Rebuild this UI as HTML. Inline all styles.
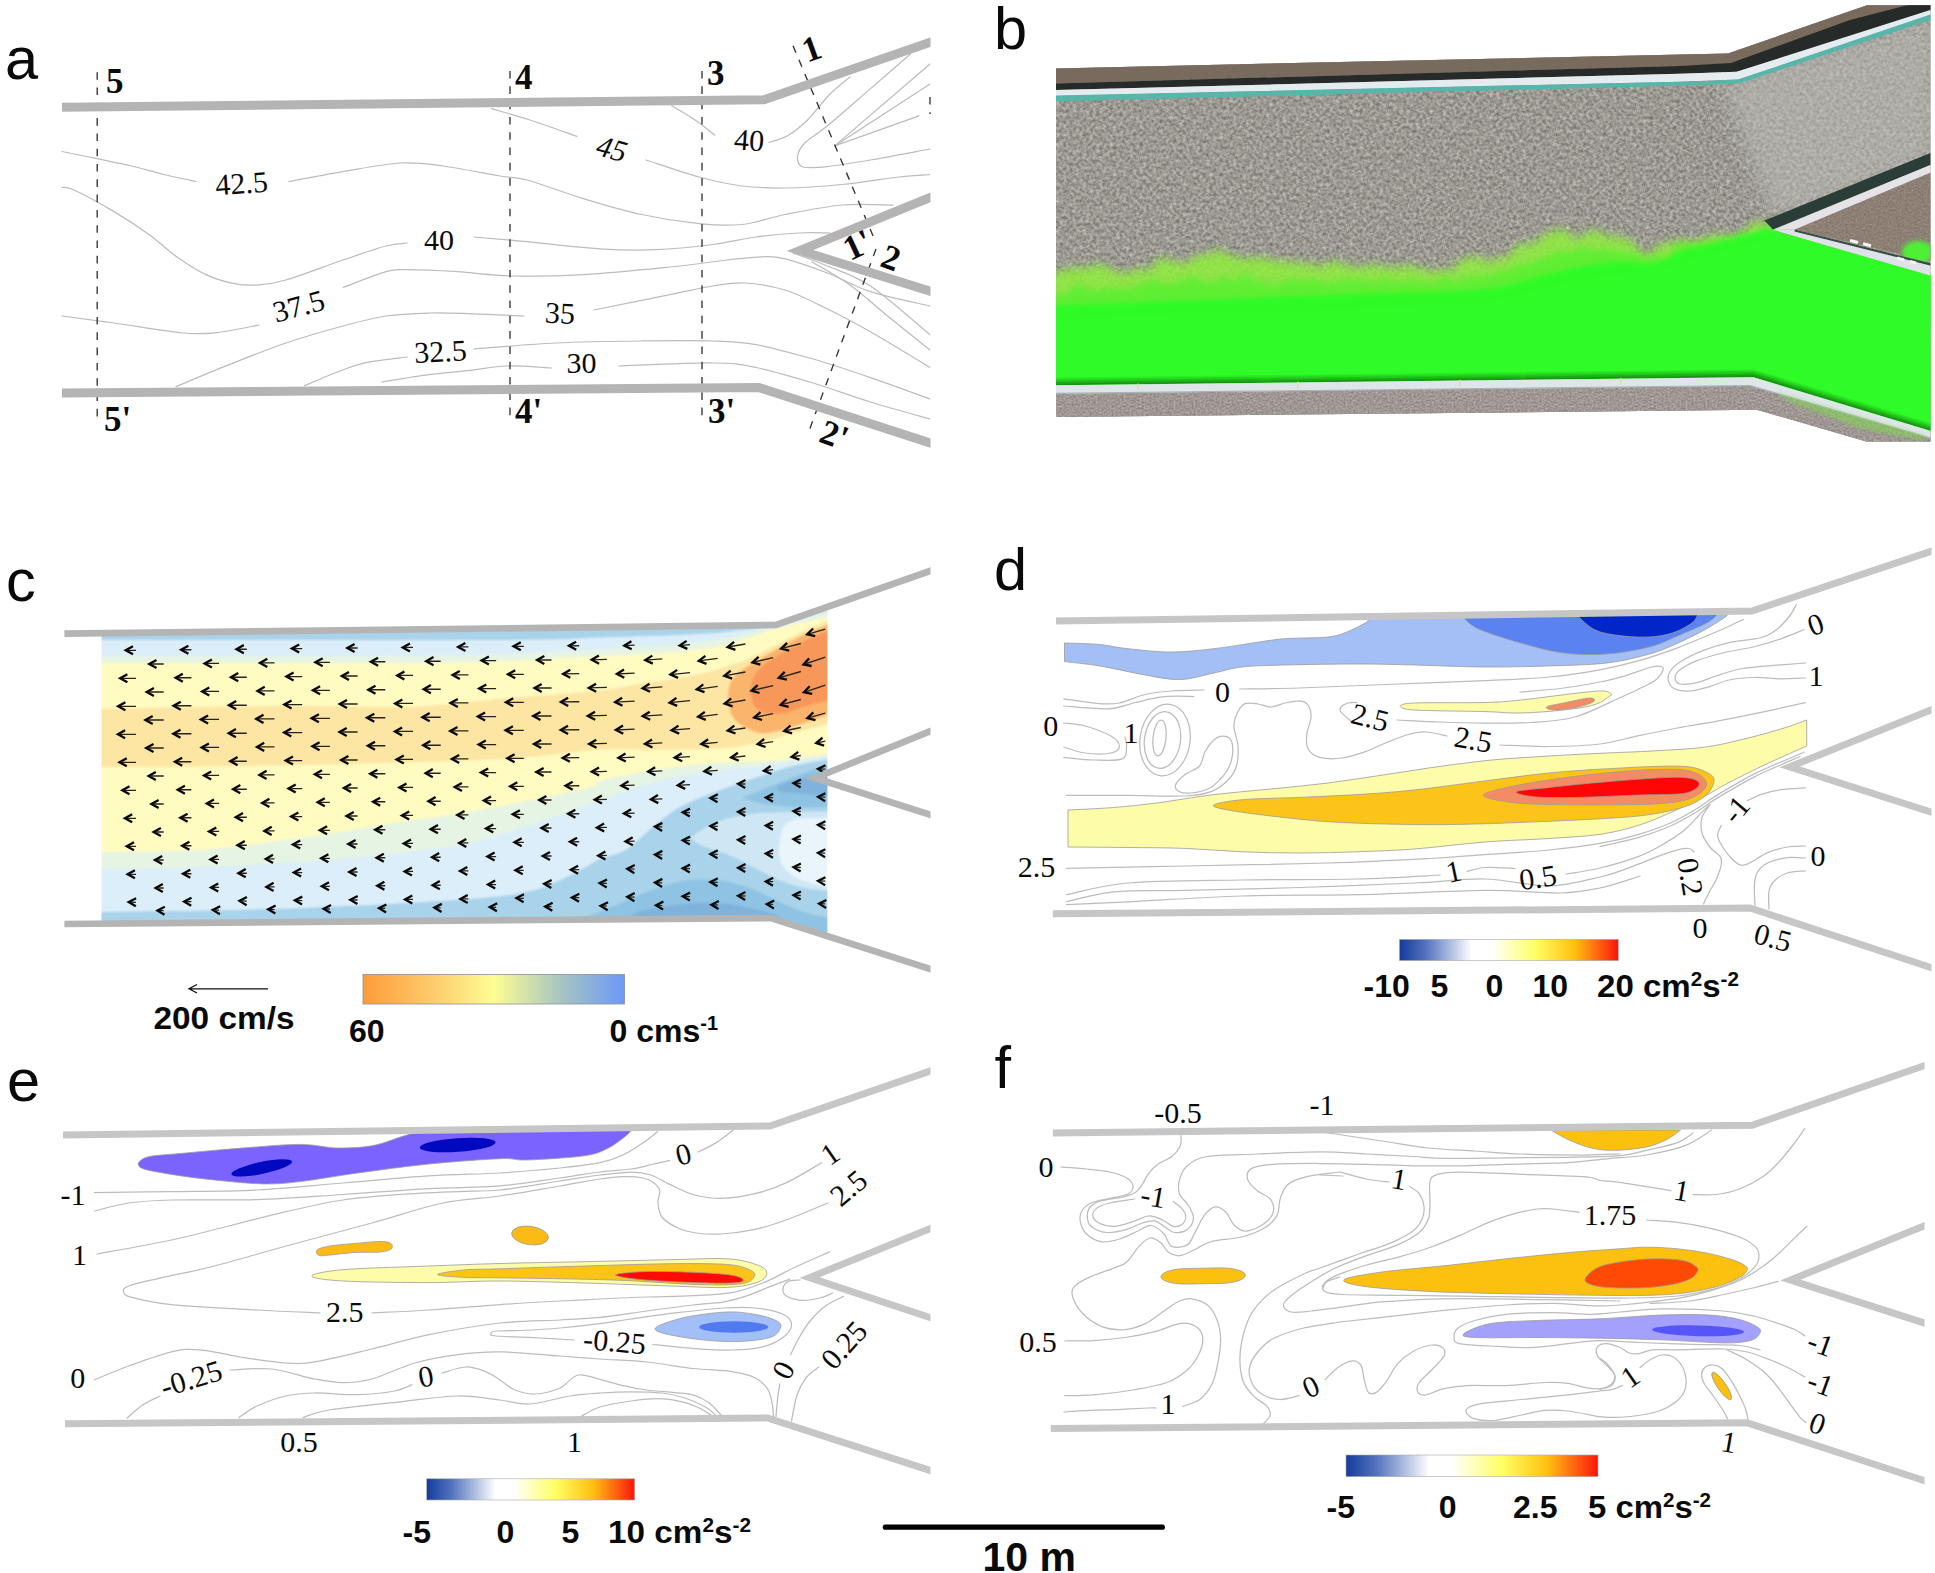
<!DOCTYPE html>
<html><head><meta charset="utf-8"><title>Figure</title>
<style>
html,body{margin:0;padding:0;background:#fff;}
body{width:1935px;height:1573px;overflow:hidden;}
svg{display:block;}
.ct{fill:none;stroke:#bcbcbc;stroke-width:1.25;stroke-linecap:round;stroke-linejoin:round;}
.wall9{fill:none;stroke:#b4b4b4;stroke-width:9;stroke-linejoin:miter;}
.wall7{fill:none;stroke:#b4b4b4;stroke-width:6.7;stroke-linejoin:miter;}
.wall7l{fill:none;stroke:#c6c6c6;stroke-width:7;stroke-linejoin:miter;}
.dash{fill:none;stroke:#333;stroke-width:1.35;stroke-dasharray:7.6 7.7;}
text{fill:#0a0a0a;}
.pl{font-family:"Liberation Sans",sans-serif;font-size:59.5px;}
.bl{font-family:"Liberation Serif",serif;font-weight:bold;font-size:35px;}
.blc{font-family:"Liberation Serif",serif;font-weight:bold;font-size:35px;text-anchor:middle;dominant-baseline:central;}
.lb{font-family:"Liberation Serif",serif;font-size:30px;}
.lbc{font-family:"Liberation Serif",serif;font-size:30px;text-anchor:middle;dominant-baseline:central;}
.lbci{font-family:"Liberation Serif",serif;font-size:30px;font-style:italic;text-anchor:middle;dominant-baseline:central;}
.ab{font-family:"Liberation Sans",sans-serif;font-weight:bold;font-size:32px;}
.ab2{font-family:"Liberation Sans",sans-serif;font-weight:bold;font-size:32px;}
.ab3{font-family:"Liberation Sans",sans-serif;font-weight:bold;font-size:41px;}
.sup{font-size:20px;}
</style></head><body>
<svg width="1935" height="1573" viewBox="0 0 1935 1573">
<defs>
<clipPath id="clipA"><rect x="0" y="0" width="930.5" height="500"/></clipPath>
<clipPath id="clipL"><rect x="0" y="500" width="930.5" height="1073"/></clipPath>
<clipPath id="clipR"><rect x="985" y="500" width="946.5" height="600"/></clipPath>
<clipPath id="clipF"><rect x="985" y="1000" width="939.5" height="573"/></clipPath>
<linearGradient id="gradC" x1="0" x2="1" y1="0" y2="0">
<stop offset="0" stop-color="#fd9c38"/><stop offset="0.25" stop-color="#fdc868"/><stop offset="0.5" stop-color="#fdfd94"/><stop offset="0.75" stop-color="#a9c6c0"/><stop offset="1" stop-color="#6c98f8"/>
</linearGradient>
<linearGradient id="gradD" x1="0" x2="1" y1="0" y2="0">
<stop offset="0" stop-color="#153b9c"/><stop offset="0.12" stop-color="#5273bd"/><stop offset="0.33" stop-color="#ffffff"/><stop offset="0.42" stop-color="#ffffff"/><stop offset="0.62" stop-color="#ffff64"/><stop offset="0.8" stop-color="#ffc010"/><stop offset="0.92" stop-color="#ff5a10"/><stop offset="1" stop-color="#fb1409"/>
</linearGradient>
<filter id="grav" x="0" y="0" width="100%" height="100%" color-interpolation-filters="sRGB">
<feTurbulence type="fractalNoise" baseFrequency="0.3" numOctaves="3" seed="7" result="n"/>
<feColorMatrix in="n" type="matrix" values="0.44 0 0 0 0.388  0.44 0 0 0 0.38  0.44 0 0 0 0.353  0 0 0 0 1" result="c"/>
<feGaussianBlur in="c" stdDeviation="0.6" result="cb"/>
<feComposite in="cb" in2="SourceGraphic" operator="in"/>
</filter>
<filter id="grav2" x="0" y="0" width="100%" height="100%" color-interpolation-filters="sRGB">
<feTurbulence type="fractalNoise" baseFrequency="0.5" numOctaves="2" seed="11" result="n"/>
<feColorMatrix in="n" type="matrix" values="1.0 0 0 0 0.1  1.0 0 0 0 0.07  1.0 0 0 0 0.06  0 0 0 0 1"/>
<feComposite in2="SourceGraphic" operator="in"/>
</filter>
<filter id="fuzz" x="-5%" y="-20%" width="110%" height="140%" color-interpolation-filters="sRGB">
<feTurbulence type="fractalNoise" baseFrequency="0.035" numOctaves="3" seed="5" result="t"/>
<feDisplacementMap in="SourceGraphic" in2="t" scale="26" xChannelSelector="R" yChannelSelector="G" result="d"/>
<feGaussianBlur in="d" stdDeviation="5"/>
</filter>
<filter id="fuzz2" x="-5%" y="-20%" width="110%" height="140%" color-interpolation-filters="sRGB">
<feTurbulence type="fractalNoise" baseFrequency="0.05" numOctaves="3" seed="9" result="t"/>
<feDisplacementMap in="SourceGraphic" in2="t" scale="20" xChannelSelector="R" yChannelSelector="G" result="d"/>
<feGaussianBlur in="d" stdDeviation="3.5"/>
</filter>
<filter id="blur1" x="-2%" y="-2%" width="104%" height="104%"><feGaussianBlur stdDeviation="1.1"/></filter>
<filter id="blur2" x="-5%" y="-20%" width="110%" height="140%"><feGaussianBlur stdDeviation="2"/></filter>
<filter id="blur8" x="-20%" y="-20%" width="140%" height="140%"><feGaussianBlur stdDeviation="10"/></filter>
</defs>
<rect width="1935" height="1573" fill="#fff"/>
<!-- panel a -->
<g clip-path="url(#clipA)">
<path class="ct" d="M62.0,151.5 C67.8,152.7 85.4,156.3 97.0,158.7 C108.6,161.1 120.1,163.3 131.6,166.0 C143.1,168.7 155.3,172.4 166.0,175.0 C176.7,177.6 191.0,180.4 196.0,181.5"/>
<path class="ct" d="M289.0,181.6 C298.0,179.9 324.4,174.7 343.0,171.6 C361.6,168.5 383.8,163.9 400.5,163.0 C417.2,162.1 426.4,163.8 443.0,166.0 C459.6,168.2 486.0,173.7 500.0,176.0 C514.0,178.3 513.0,176.2 527.0,180.0 C541.0,183.8 564.9,193.1 584.0,198.8 C603.1,204.6 622.4,210.3 641.6,214.5 C660.8,218.7 682.3,222.0 699.0,223.7 C715.7,225.4 727.7,226.0 742.0,224.5 C756.3,223.0 768.3,217.8 785.0,214.5 C801.7,211.2 824.0,206.6 842.0,205.0 C860.0,203.4 884.5,205.0 893.0,205.0"/>
<path class="ct" d="M62.0,187.5 C64.0,187.9 65.3,186.0 74.0,190.0 C82.7,194.0 101.5,204.2 114.0,211.6 C126.5,219.0 138.5,226.9 149.0,234.5 C159.5,242.1 167.5,250.3 177.0,257.0 C186.5,263.7 196.4,270.2 206.0,274.6 C215.6,279.1 226.0,282.0 234.5,283.7 C243.0,285.4 248.4,285.6 257.0,285.0 C265.6,284.4 271.7,284.2 286.0,280.0 C300.3,275.8 326.3,265.7 343.0,260.0 C359.7,254.3 375.3,248.8 386.0,246.0 C396.7,243.2 403.5,243.5 407.0,243.0"/>
<path class="ct" d="M474.0,237.0 C482.8,237.8 506.2,239.7 527.0,241.7 C547.8,243.7 577.5,247.5 599.0,248.8 C620.5,250.1 637.0,250.4 656.0,249.7 C675.0,249.0 696.3,246.6 713.0,244.5 C729.7,242.4 741.7,238.9 756.0,237.0 C770.3,235.1 786.7,233.7 799.0,233.0 C811.3,232.3 824.8,233.0 830.0,233.0"/>
<path class="ct" d="M62.0,316.0 C70.7,317.2 93.8,320.2 114.0,323.0 C134.2,325.8 165.8,331.4 183.0,333.0 C200.2,334.6 204.3,333.9 217.0,332.6 C229.7,331.3 252.0,326.3 259.0,325.0"/>
<path class="ct" d="M343.0,287.5 C350.2,284.9 375.5,274.7 386.0,271.7 C396.5,268.7 394.1,269.7 406.0,269.7 C417.9,269.7 439.8,270.6 457.6,271.7 C475.4,272.8 491.9,275.5 513.0,276.0 C534.1,276.5 557.8,276.1 584.0,274.6 C610.2,273.1 646.2,269.4 670.0,267.0 C693.8,264.6 711.7,261.7 727.0,260.0 C742.3,258.3 752.3,257.0 762.0,256.8 C771.7,256.6 774.1,256.1 785.0,258.8 C795.9,261.5 813.2,267.5 827.5,273.0 C841.8,278.5 853.4,286.2 870.5,291.7 C887.6,297.2 920.1,303.6 930.0,306.0"/>
<path class="ct" d="M176.0,386.7 C184.8,383.0 210.7,372.0 229.0,364.7 C247.3,357.4 267.0,349.4 286.0,343.0 C305.0,336.6 326.3,330.5 343.0,326.0 C359.7,321.5 371.7,318.2 386.0,316.0 C400.3,313.8 414.7,313.4 429.0,313.0 C443.3,312.6 456.2,313.3 472.0,313.8 C487.8,314.3 515.3,315.6 524.0,316.0"/>
<path class="ct" d="M594.0,310.0 C606.7,307.4 650.2,298.6 670.0,294.6 C689.8,290.6 700.6,287.9 713.0,286.0 C725.4,284.1 732.6,282.3 744.6,283.0 C756.6,283.7 771.2,285.7 785.0,290.0 C798.8,294.3 813.2,302.0 827.5,309.0 C841.8,316.0 853.4,322.1 870.5,331.8 C887.6,341.6 920.1,361.6 930.0,367.5"/>
<path class="ct" d="M304.6,385.6 C310.1,383.3 327.3,375.8 337.5,372.0 C347.7,368.2 354.4,365.2 366.0,362.7 C377.6,360.2 400.2,357.9 407.0,357.0"/>
<path class="ct" d="M474.0,349.0 C487.7,348.0 528.1,344.3 556.0,343.0 C583.9,341.7 615.4,341.3 641.6,341.0 C667.8,340.7 693.9,340.4 713.0,341.0 C732.1,341.6 739.3,341.6 756.0,344.6 C772.7,347.6 793.9,353.5 813.0,359.0 C832.1,364.5 851.0,370.9 870.5,377.6 C890.0,384.3 920.1,395.4 930.0,399.0"/>
<path class="ct" d="M382.0,382.0 C389.8,380.8 414.3,376.6 429.0,374.7 C443.7,372.8 457.0,371.8 470.0,370.4 C483.0,368.9 493.4,366.4 507.0,366.0 C520.6,365.6 544.1,367.7 551.5,368.0"/>
<path class="ct" d="M619.0,366.0 C634.7,365.5 690.2,362.8 713.0,363.0 C735.8,363.2 739.3,364.2 756.0,367.5 C772.7,370.8 793.9,377.2 813.0,383.0 C832.1,388.8 851.0,396.0 870.5,402.0 C890.0,408.0 920.1,416.2 930.0,419.0"/>
<path class="ct" d="M491.5,108.7 C497.9,110.6 515.8,115.4 530.0,120.0 C544.2,124.6 569.2,133.7 577.0,136.4"/>
<path class="ct" d="M646.0,160.0 C654.8,162.8 683.0,172.7 699.0,177.0 C715.0,181.3 727.7,184.2 742.0,186.0 C756.3,187.8 768.3,188.2 785.0,188.0 C801.7,187.8 823.0,186.3 842.0,184.5 C861.0,182.7 884.3,178.7 899.0,177.0 C913.7,175.3 924.8,174.9 930.0,174.5"/>
<path class="ct" d="M671.7,105.8 C675.6,108.2 687.9,115.1 695.0,120.0 C702.1,124.9 711.3,132.5 714.6,135.0"/>
<path class="ct" d="M769.0,142.4 C772.1,141.3 781.1,139.5 787.5,135.8 C793.9,132.1 800.4,127.0 807.5,120.0 C814.6,113.0 822.9,101.2 830.0,94.0 C837.1,86.8 846.7,79.8 850.0,77.0"/>
<path class="ct" d="M910.5,54.0 C903.8,59.8 884.3,76.6 870.5,88.6 C856.7,100.6 838.5,116.7 827.5,125.8 C816.5,134.9 809.7,137.8 804.7,143.0 C799.7,148.2 797.8,153.0 797.5,157.0 C797.2,161.0 798.0,165.4 803.0,167.0 C808.0,168.6 816.2,167.7 827.5,166.5 C838.8,165.3 853.4,162.9 870.5,160.0 C887.6,157.1 920.1,150.8 930.0,149.0"/>
<path class="ct" d="M793.0,253.0 C798.8,255.2 814.6,260.5 827.5,266.0 C840.4,271.5 853.4,274.6 870.5,286.0 C887.6,297.4 920.1,326.5 930.0,334.6"/>
<path class="ct" d="M812.0,262.0 C818.3,265.8 837.0,275.7 850.0,285.0 C863.0,294.3 876.7,307.2 890.0,318.0 C903.3,328.8 923.3,344.7 930.0,350.0"/>
<path class="ct" d="M930,64 L834.7,145.9 L919,115.8"/>
<path class="ct" d="M930,84 L834.7,145.9"/>
</g>
<path class="dash" d="M97.2,72.2 L97.2,421.0"/>
<path class="dash" d="M510.0,71.0 L510.0,417.0"/>
<path class="dash" d="M702.0,71.0 L702.0,417.0"/>
<path class="dash" d="M793,45.7 L876,243"/>
<path class="dash" d="M876,249 L807.5,435"/>
<path class="dash" d="M930,97 L930,114"/>
<g clip-path="url(#clipA)">
<path class="wall9" d="M62,107.2 L764,99.8 L940,39"/>
<path class="wall9" d="M62,393 L759,387.6 L940,446.2"/>
<path class="wall9" d="M940,193.4 L800,250.5 L940,294.4"/>
</g>
<text class="bl" x="106.0" y="92.5">5</text>
<text class="bl" x="104.0" y="430.5">5'</text>
<text class="bl" x="515.0" y="88.5">4</text>
<text class="bl" x="515.0" y="423.0">4'</text>
<text class="bl" x="707.0" y="84.5">3</text>
<text class="bl" x="708.0" y="423.0">3'</text>
<text class="blc" transform="translate(812.0 50.0) rotate(-20.0)" x="0" y="-1.0">1</text>
<text class="blc" transform="translate(858.0 246.0) rotate(-25.0)" x="0" y="-1.0">1'</text>
<text class="blc" transform="translate(890.5 259.0) rotate(20.0)" x="0" y="-1.0">2</text>
<text class="blc" transform="translate(834.0 436.0) rotate(20.0)" x="0" y="-1.0">2'</text>
<text class="lbc" transform="translate(241.7 184.8) rotate(-4.0)" x="0" y="-1.8">42.5</text>
<text class="lbc" x="439.0" y="239.9">40</text>
<text class="lbc" transform="translate(299.0 307.5) rotate(-15.0)" x="0" y="-1.8">37.5</text>
<text class="lbc" transform="translate(440.5 353.0) rotate(-3.0)" x="0" y="-1.8">32.5</text>
<text class="lbci" transform="translate(611.6 150.0) rotate(15.0)" x="0" y="-1.8">45</text>
<text class="lbc" transform="translate(749.0 141.6) rotate(4.0)" x="0" y="-1.8">40</text>
<text class="lbc" transform="translate(560.0 314.6) rotate(3.0)" x="0" y="-1.8">35</text>
<text class="lbc" x="581.5" y="362.9">30</text>
<!-- panel b -->
<clipPath id="clipB"><path d="M1056.0,68.4 L1728.0,53.4 L1867.0,5.3 L1930.4,5.3 L1930.4,441.4 L1866.4,441.4 L1757.0,409.8 L1056.0,417.0Z"/></clipPath>
<g clip-path="url(#clipB)">
<rect x="1050" y="0" width="890" height="450" fill="#9d9b94"/>
<rect x="1050" y="0" width="890" height="450" fill="#9c968f" filter="url(#grav)"/>
<path d="M1720,80 L1935,15 L1935,160 L1775,222 Z" fill="#c2c0bc" opacity="0.5" filter="url(#blur8)"/>
<path d="M1050.0,60.0 L1728.0,45.0 L1867.0,0.0 L1935.0,0.0 L1935.0,9.0 L1900.0,8.0 L1733.0,64.5 L1680.0,65.9 L1056.0,83.4 L1050.0,83.5Z" fill="#786a5d"/>
<path d="M1050.0,83.5 L1056.0,83.4 L1680.0,65.9 L1731.0,63.0 L1850.0,20.0 L1935.0,-2.0 L1935.0,9.9 L1736.7,71.8 L1680.0,73.8 L1056.0,90.0 L1050.0,90.0Z" fill="#262b29"/>
<path d="M1050.0,90.0 L1056.0,90.0 L1680.0,73.8 L1736.7,71.8 L1935.0,8.5 L1935.0,14.5 L1738.0,79.6 L1680.0,81.7 L1056.0,96.0 L1050.0,96.0Z" fill="#e4ecef"/>
<path d="M1050.0,96.0 L1056.0,95.5 L1680.0,81.7 L1738.0,79.6 L1935.0,13.0 L1935.0,18.4 L1739.0,83.5 L1680.0,85.7 L1056.0,101.5 L1050.0,101.5Z" fill="#58b5aa"/>
<path d="M1050.0,389.0 L1750.0,381.0 L1935.0,435.0 L1935.0,450.0 L1050.0,450.0Z" fill="#a29a97"/>
<path d="M1050.0,389.0 L1750.0,381.0 L1935.0,435.0 L1935.0,450.0 L1050.0,450.0Z" fill="#a29a97" filter="url(#grav2)" opacity="0.3"/>
<g filter="url(#fuzz)"><path d="M1050.0,272.5 C1051.0,272.5 1042.3,273.3 1056.0,272.5 C1069.7,271.7 1109.3,270.4 1132.0,267.6 C1154.7,264.9 1175.6,258.1 1192.0,256.0 C1208.4,253.9 1215.8,254.0 1230.5,255.0 C1245.2,256.0 1263.6,260.7 1280.0,262.0 C1296.4,263.3 1304.2,261.8 1328.7,262.7 C1353.2,263.6 1402.5,267.7 1427.0,267.6 C1451.5,267.5 1459.7,266.3 1476.0,262.0 C1492.3,257.7 1508.7,246.8 1525.0,242.0 C1541.3,237.2 1557.7,234.1 1574.0,233.0 C1590.3,231.9 1610.7,232.9 1623.0,235.7 C1635.3,238.5 1638.3,248.8 1647.8,250.0 C1657.3,251.2 1671.8,244.6 1680.0,243.0 C1688.2,241.4 1687.3,242.1 1697.0,240.6 C1706.7,239.1 1726.3,236.3 1738.0,234.0 C1749.7,231.7 1762.2,228.2 1767.0,227.0 L1935,275 L1935,320 L1050,320 Z" fill="#8ff03c" opacity="0.85"/></g>
<g filter="url(#fuzz2)"><path d="M1050.0,290.9 C1055.0,290.7 1070.0,289.9 1080.0,289.4 C1090.0,288.9 1100.0,288.5 1110.0,287.9 C1120.0,287.3 1130.0,286.8 1140.0,285.9 C1150.0,285.1 1160.0,283.7 1170.0,282.7 C1180.0,281.7 1190.0,280.6 1200.0,280.0 C1210.0,279.4 1220.0,279.0 1230.0,279.1 C1240.0,279.1 1250.0,280.0 1260.0,280.3 C1270.0,280.6 1280.0,281.0 1290.0,281.0 C1300.0,281.1 1310.0,280.7 1320.0,280.6 C1330.0,280.5 1340.0,280.5 1350.0,280.5 C1360.0,280.6 1370.0,280.6 1380.0,280.7 C1390.0,280.7 1400.0,280.9 1410.0,280.8 C1420.0,280.6 1430.0,280.4 1440.0,279.9 C1450.0,279.4 1460.0,279.4 1470.0,277.8 C1480.0,276.2 1490.0,273.0 1500.0,270.3 C1510.0,267.7 1520.0,264.4 1530.0,261.9 C1540.0,259.4 1550.0,257.1 1560.0,255.3 C1570.0,253.6 1580.0,252.4 1590.0,251.5 C1600.0,250.6 1610.0,249.2 1620.0,250.1 C1630.0,251.0 1640.0,257.2 1650.0,256.9 C1660.0,256.5 1670.0,250.6 1680.0,248.0 C1690.0,245.5 1700.0,243.8 1710.0,241.7 C1720.0,239.6 1730.5,238.0 1740.0,235.6 C1749.5,233.2 1762.5,228.9 1767.0,227.6 L1935,276 L1935,330 L1050,330 Z" fill="#5fee33"/></g>
<path d="M1050.0,306.0 C1051.0,305.9 1034.2,306.4 1056.0,305.5 C1077.8,304.6 1135.5,302.4 1181.0,300.6 C1226.5,298.9 1279.5,296.8 1328.7,295.0 C1377.9,293.2 1442.5,292.7 1476.0,290.0 C1509.5,287.3 1513.7,282.7 1530.0,279.0 C1546.3,275.3 1559.0,270.8 1574.0,268.0 C1589.0,265.2 1606.5,262.8 1620.0,262.0 C1633.5,261.2 1644.2,265.0 1655.0,263.0 C1665.8,261.0 1671.2,254.2 1685.0,250.0 C1698.8,245.8 1724.3,241.7 1738.0,238.0 C1751.7,234.3 1762.2,229.7 1767.0,228.0 L1776,231 L1935,272 L1935,433 L1753.4,378 L1050,386 Z" fill="#2efb27" filter="url(#blur2)"/>
<path d="M1050,318 L1480,304 L1540,288 L1600,276 L1660,270 L1700,256 L1776,237 L1935,277 L1935,433 L1753.4,378 L1050,386 Z" fill="#2efb27"/>
<path d="M1050,378.4 L1753.4,370.2 L1935,425.3" fill="none" stroke="#14820f" stroke-width="1.8" opacity="0.12"/>
<path d="M1050,379.9 L1753.4,371.7 L1935,426.8" fill="none" stroke="#14820f" stroke-width="1.8" opacity="0.28"/>
<path d="M1050,381.4 L1753.4,373.2 L1935,428.3" fill="none" stroke="#14820f" stroke-width="1.8" opacity="0.45"/>
<path d="M1050,382.9 L1753.4,374.7 L1935,429.8" fill="none" stroke="#14820f" stroke-width="1.8" opacity="0.65"/>
<path d="M1050,384.4 L1753.4,376.2 L1935,431.3" fill="none" stroke="#14820f" stroke-width="1.8" opacity="0.85"/>
<path d="M1050.0,385.4 L1753.4,377.2 L1935.0,432.3 L1935.0,439.6 L1750.0,385.8 L1050.0,393.8Z" fill="#dfe6ea"/>
<path d="M1050,393.5 L1750,385.5 L1935,439.3" fill="none" stroke="#a8b4b6" stroke-width="1.2"/>
<path d="M1775,392 L1850,414 L1925,436 L1925,441 L1860,428 L1790,402 Z" fill="#7fe04a" opacity="0.55" filter="url(#blur2)"/>
<path d="M1794.7,229.6 L1935.0,171.0 L1935.0,262.0Z" fill="#8a7c70"/>
<path d="M1794.7,229.6 L1935.0,171.0 L1935.0,262.0Z" fill="#8c8075" filter="url(#grav2)" opacity="0.18"/>
<ellipse cx="1918" cy="252" rx="16" ry="11" fill="#4df034" filter="url(#blur2)"/>
<path d="M1764.4,220.5 L1935.0,151.0 L1935.0,163.0 L1773.0,229.5Z" fill="#2a3d37"/>
<path d="M1773.0,229.8 L1935.0,163.0 L1935.0,170.5 L1794.7,229.6Z" fill="#e6e3e8"/>
<path d="M1773.0,229.8 L1794.7,229.6 L1935.0,264.5 L1935.0,277.0Z" fill="#dfe2e8"/>
<path d="M1794.7,230.5 L1935,265.5" stroke="#3a4a45" stroke-width="2.2" fill="none"/>
<path d="M1850,240.5 L1858,242.5 M1863,243.7 L1871,245.7 M1897,258 L1904,260 M1910,261.5 L1916,263" stroke="#f4f4f4" stroke-width="3" fill="none"/>
<rect x="1137" y="383.6" width="1.5" height="7" fill="#e8d9a0"/>
<rect x="1297" y="381.7" width="1.5" height="7" fill="#e8d9a0"/>
<rect x="1459" y="379.8" width="1.5" height="7" fill="#e8d9a0"/>
<rect x="1620" y="378.0" width="1.5" height="7" fill="#e8d9a0"/>
</g>
<!-- panel c -->
<clipPath id="clipC"><path d="M101.5,633.5 L776.0,625.0 L827.4,607.0 L827.4,936.0 L770.5,918.3 L101.5,924.0Z"/></clipPath>
<g clip-path="url(#clipC)"><g filter="url(#blur1)">
<rect x="95" y="600" width="740" height="345" fill="#a9d3ea"/>
<path d="M95.0,640.0 C96.1,640.0 34.0,640.0 101.5,640.0 C169.0,640.0 416.9,640.4 500.0,640.0 C583.1,639.6 566.7,638.5 600.0,637.5 C633.3,636.5 675.8,635.3 700.0,634.0 C724.2,632.7 734.2,630.8 745.0,629.5 C755.8,628.2 759.8,627.6 765.0,626.5 C770.2,625.4 770.2,625.0 776.0,623.0 C781.8,621.0 790.2,618.0 800.0,614.5 C809.8,611.0 829.2,604.1 835.0,602.0 L835.0,758.0 C828.2,759.3 805.2,763.2 794.0,765.8 C782.8,768.4 776.7,770.8 768.0,773.6 C759.3,776.4 750.7,779.6 742.0,782.6 C733.3,785.6 724.7,788.5 716.0,791.7 C707.3,794.9 697.3,798.6 690.0,802.0 C682.7,805.4 678.4,807.7 672.0,812.0 C665.6,816.3 659.4,821.6 651.7,827.9 C644.0,834.2 634.4,844.6 625.8,849.8 C617.2,855.0 607.0,855.9 600.0,858.9 C593.0,861.9 591.4,864.1 584.0,868.0 C576.6,871.9 565.3,878.0 555.8,882.0 C546.3,886.0 541.3,889.0 527.0,891.8 C512.7,894.6 507.8,896.3 470.0,899.0 C432.2,901.7 361.4,905.8 300.0,908.0 C238.6,910.2 135.7,911.3 101.5,912.0 C67.3,912.7 96.1,912.0 95.0,912.0Z" fill="#dceef9"/>
<path d="M95.0,656.0 C96.1,656.0 67.3,656.0 101.5,656.0 C135.7,656.0 238.6,656.2 300.0,656.0 C361.4,655.8 422.7,656.0 470.0,655.0 C517.3,654.0 555.7,651.3 584.0,650.0 C612.3,648.7 622.3,648.2 640.0,647.0 C657.7,645.8 675.2,644.6 690.0,643.0 C704.8,641.4 716.0,640.1 729.0,637.5 C742.0,634.9 757.2,630.3 768.0,627.5 C778.8,624.7 783.9,622.9 793.8,620.5 C803.7,618.1 820.5,614.5 827.4,613.0 C834.3,611.5 833.7,611.6 835.0,611.3 L835.0,755.0 C821.7,757.0 776.9,763.9 755.0,766.7 C733.1,769.5 720.6,769.3 703.4,772.0 C686.2,774.7 668.9,778.3 651.7,783.0 C634.5,787.7 611.3,796.2 600.0,800.0 C588.7,803.8 595.7,801.8 584.0,806.0 C572.3,810.2 549.0,818.8 530.0,825.0 C511.0,831.2 491.7,838.3 470.0,843.0 C448.3,847.7 428.3,849.8 400.0,853.0 C371.7,856.2 333.3,859.7 300.0,862.0 C266.7,864.3 233.1,865.8 200.0,867.0 C166.9,868.2 119.0,868.7 101.5,869.0 C84.0,869.3 96.1,869.0 95.0,869.0Z" fill="#e6f4e3"/>
<path d="M95.0,663.0 C96.1,663.0 67.3,663.0 101.5,663.0 C135.7,663.0 238.6,663.2 300.0,663.0 C361.4,662.8 422.7,663.0 470.0,662.0 C517.3,661.0 555.9,658.3 584.0,657.0 C612.1,655.7 621.1,655.1 638.8,654.0 C656.5,652.9 675.4,652.1 690.4,650.4 C705.4,648.7 716.1,647.2 729.0,644.0 C741.9,640.8 757.2,634.2 768.0,631.0 C778.8,627.8 783.9,626.8 793.8,624.5 C803.7,622.2 820.5,618.5 827.4,617.0 C834.3,615.5 833.7,615.6 835.0,615.3 L835.0,752.5 C828.2,753.6 807.3,757.5 794.0,759.0 C780.7,760.5 770.1,760.7 755.0,761.5 C739.9,762.3 720.6,762.5 703.4,764.0 C686.2,765.5 668.9,767.7 651.7,770.5 C634.5,773.3 611.3,777.9 600.0,781.0 C588.7,784.1 605.7,783.9 584.0,789.0 C562.3,794.1 500.7,806.2 470.0,811.7 C439.3,817.2 428.3,817.6 400.0,822.0 C371.7,826.4 333.3,833.3 300.0,838.0 C266.7,842.7 233.1,847.7 200.0,850.0 C166.9,852.3 119.0,851.7 101.5,852.0 C84.0,852.3 96.1,852.0 95.0,852.0Z" fill="#fffbc1"/>
<path d="M95.0,709.0 C96.1,709.0 84.0,709.3 101.5,709.0 C119.0,708.7 166.9,707.5 200.0,707.0 C233.1,706.5 266.7,706.0 300.0,706.0 C333.3,706.0 375.0,707.3 400.0,707.0 C425.0,706.7 433.3,705.3 450.0,704.0 C466.7,702.7 475.0,701.3 500.0,699.0 C525.0,696.7 576.9,692.9 600.0,690.4 C623.1,687.9 623.7,686.4 638.8,684.0 C653.9,681.6 675.4,679.0 690.4,676.0 C705.4,673.0 718.2,669.4 729.0,666.0 C739.8,662.6 744.2,660.6 755.0,655.6 C765.8,650.6 781.7,641.8 793.8,636.0 C805.9,630.2 820.5,624.1 827.4,621.0 C834.3,617.9 833.7,618.2 835.0,617.6 L835.0,722.0 C833.7,722.3 834.3,722.2 827.4,724.0 C820.5,725.8 805.9,729.8 793.8,733.0 C781.7,736.2 768.0,740.8 755.0,743.4 C742.0,746.0 733.2,747.5 716.0,748.6 C698.8,749.7 671.0,749.9 651.7,750.0 C632.4,750.1 625.3,748.0 600.0,749.5 C574.7,751.0 550.0,756.4 500.0,759.0 C450.0,761.6 366.4,763.7 300.0,765.0 C233.6,766.3 135.7,766.7 101.5,767.0 C67.3,767.3 96.1,767.0 95.0,767.0Z" fill="#fde5a3"/>
<path d="M728.0,696.0 C728.4,693.8 728.6,686.7 730.5,682.7 C732.4,678.7 735.4,675.5 739.5,672.0 C743.6,668.5 748.1,666.2 755.0,662.0 C761.9,657.8 772.4,651.2 781.0,646.5 C789.6,641.8 799.0,637.2 806.7,633.6 C814.4,630.0 822.7,627.0 827.4,625.0 C832.1,623.0 833.7,622.3 835.0,621.8 L835.0,712.4 C833.7,712.8 834.3,712.6 827.4,715.0 C820.5,717.4 803.7,723.6 793.8,726.6 C783.9,729.6 774.5,732.1 768.0,733.0 C761.5,733.9 759.8,733.3 755.0,731.8 C750.2,730.3 743.6,727.2 739.5,724.0 C735.4,720.8 732.4,717.1 730.5,712.4 C728.6,707.7 728.4,698.7 728.0,696.0Z" fill="#fbb46c"/>
<path d="M750.5,693.0 C750.8,690.8 750.7,684.3 752.5,680.0 C754.3,675.7 756.8,671.3 761.5,667.0 C766.2,662.7 773.5,658.5 781.0,654.0 C788.5,649.5 799.0,643.8 806.7,640.0 C814.4,636.2 822.7,633.0 827.4,631.0 C832.1,629.0 833.7,628.2 835.0,627.7 L835.0,698.9 C833.7,699.2 832.1,699.6 827.4,700.8 C822.7,702.0 813.4,704.1 806.7,706.0 C800.0,707.9 793.8,711.1 787.3,712.4 C780.8,713.7 773.4,714.6 768.0,713.7 C762.6,712.8 757.9,710.5 755.0,707.0 C752.1,703.5 751.2,695.3 750.5,693.0Z" fill="#f8975a"/>
<path d="M690.4,838.0 C692.6,836.5 698.0,832.0 703.4,829.0 C708.8,826.0 714.1,822.6 722.7,820.0 C731.3,817.4 743.1,814.9 755.0,813.6 C766.9,812.3 780.7,812.4 794.0,812.0 C807.3,811.6 828.2,811.6 835.0,811.5 L835.0,891.5 C830.3,891.0 815.7,890.4 806.7,888.6 C797.7,886.8 789.6,884.2 781.0,880.8 C772.4,877.4 763.7,872.3 755.0,868.0 C746.3,863.7 737.7,858.7 729.0,855.0 C720.3,851.3 709.4,848.8 703.0,846.0 C696.6,843.2 692.5,839.3 690.4,838.0Z" fill="#cfe7f5"/>
<path d="M835.0,818.0 C830.2,818.1 812.9,818.2 806.0,818.5 C799.1,818.8 797.6,817.9 793.8,819.5 C790.0,821.1 785.5,822.9 783.0,828.0 C780.5,833.1 778.9,843.6 779.0,850.0 C779.1,856.4 780.0,861.7 783.5,866.6 C787.0,871.5 791.4,875.8 800.0,879.5 C808.6,883.2 829.2,887.4 835.0,889.0Z" fill="#e9f5fb"/>
<path d="M742.0,798.0 C745.2,796.7 755.0,792.7 761.5,790.0 C768.0,787.3 773.5,785.0 781.0,782.0 C788.5,779.0 797.7,775.3 806.7,772.0 C815.7,768.7 830.3,763.7 835.0,762.0 L835.0,807.0 C828.2,807.0 805.2,807.4 794.0,807.0 C782.8,806.6 776.7,806.1 768.0,804.6 C759.3,803.1 746.3,799.1 742.0,798.0Z" fill="#8fc3e3"/>
<path d="M777.0,786.5 C779.8,785.4 789.0,781.5 794.0,780.0 C799.0,778.5 799.9,778.0 806.7,777.5 C813.5,777.0 830.3,777.1 835.0,777.0 L835.0,797.0 C830.3,796.5 815.7,794.9 806.7,794.0 C797.7,793.1 786.0,793.0 781.0,791.7 C776.0,790.5 777.7,787.4 777.0,786.5Z" fill="#7fb3dc"/>
<path d="M560.0,925.0 C566.7,922.8 586.9,916.8 600.0,911.8 C613.1,906.8 625.9,900.0 638.8,895.0 C651.7,890.0 666.7,884.6 677.5,882.0 C688.3,879.4 694.8,879.5 703.4,879.5 C712.0,879.5 720.4,880.2 729.0,882.0 C737.6,883.8 746.3,886.5 755.0,890.0 C763.7,893.5 772.4,899.0 781.0,902.8 C789.6,906.6 797.7,910.3 806.7,913.0 C815.7,915.7 830.3,918.0 835.0,919.0 L835,945 L560,945Z" fill="#8fc3e3"/>
<path d="M620.0,925.0 C623.1,922.8 631.4,914.8 638.8,911.8 C646.2,908.8 653.9,908.2 664.6,906.7 C675.3,905.2 692.3,903.2 703.0,902.8 C713.7,902.3 720.3,903.0 729.0,904.0 C737.7,905.0 747.4,907.3 755.0,909.0 C762.6,910.7 768.6,911.7 774.4,914.4 C780.2,917.1 787.4,923.2 790.0,925.0Z" fill="#7fb3dc"/>
</g></g>
<path d="M825.3,629.2 L807.2,634.3 M136.0,650.3 L125.7,650.3 M191.4,649.7 L181.1,649.7 M246.8,649.2 L236.5,649.2 M302.2,648.6 L291.9,648.6 M357.6,648.0 L347.3,648.0 M413.0,647.4 L402.7,647.4 M468.4,646.9 L458.1,646.9 M523.8,646.3 L513.5,646.3 M579.2,645.7 L568.9,645.8 M634.6,645.2 L624.3,645.6 M690.0,644.6 L679.7,645.6 M745.4,644.0 L727.6,647.0 M800.8,643.5 L781.1,648.6 M163.7,664.0 L149.2,664.0 M219.1,663.4 L204.6,663.4 M274.5,662.9 L260.0,662.9 M329.9,662.3 L315.4,662.3 M385.3,661.7 L370.8,661.7 M440.7,661.2 L426.2,661.2 M496.1,660.6 L481.6,660.6 M551.5,660.0 L537.1,660.0 M606.9,659.4 L591.7,659.8 M662.3,658.9 L645.3,660.1 M717.7,658.3 L698.8,660.9 M773.1,657.7 L752.4,662.4 M825.3,657.2 L803.5,664.5 M136.0,678.3 L120.1,678.3 M191.4,677.7 L175.6,677.7 M246.8,677.2 L231.0,677.2 M302.2,676.6 L286.4,676.6 M357.6,676.0 L341.8,676.0 M413.0,675.4 L397.2,675.4 M468.4,674.9 L452.6,674.9 M523.8,674.3 L508.0,674.3 M579.2,673.7 L563.1,673.9 M634.6,673.2 L616.9,674.0 M690.0,672.6 L670.4,674.6 M745.4,672.0 L724.3,675.9 M800.8,671.5 L778.8,677.8 M163.7,692.0 L146.7,692.0 M219.1,691.4 L202.1,691.4 M274.5,690.9 L257.5,690.9 M329.9,690.3 L312.9,690.3 M385.3,689.7 L368.3,689.7 M440.7,689.2 L423.7,689.2 M496.1,688.6 L479.1,688.6 M551.5,688.0 L534.5,688.0 M606.9,687.4 L588.8,687.9 M662.3,686.9 L642.6,688.3 M717.7,686.3 L696.7,689.3 M773.1,685.7 L751.5,690.7 M825.3,685.2 L804.0,692.3 M136.0,706.3 L118.1,706.3 M191.4,705.7 L173.5,705.7 M246.8,705.2 L228.9,705.2 M302.2,704.6 L284.3,704.6 M357.6,704.0 L339.7,704.0 M413.0,703.4 L395.1,703.4 M468.4,702.9 L450.5,702.9 M523.8,702.3 L505.9,702.3 M579.2,701.7 L560.9,701.9 M634.6,701.2 L615.1,702.1 M690.0,700.6 L669.6,702.7 M745.4,700.0 L724.7,703.6 M800.8,699.5 L780.6,704.8 M163.7,720.0 L145.4,720.0 M219.1,719.4 L200.8,719.4 M274.5,718.9 L256.2,718.9 M329.9,718.3 L311.6,718.3 M385.3,717.7 L367.0,717.7 M440.7,717.2 L422.4,717.2 M496.1,716.6 L477.8,716.6 M551.5,716.0 L533.2,716.0 M606.9,715.4 L587.8,715.9 M662.3,714.9 L642.7,716.2 M717.7,714.3 L698.1,716.8 M773.1,713.7 L754.2,717.5 M825.3,713.2 L807.4,718.2 M136.0,734.3 L117.9,734.3 M191.4,733.7 L173.3,733.7 M246.8,733.2 L228.7,733.2 M302.2,732.6 L284.1,732.6 M357.6,732.0 L339.5,732.0 M413.0,731.4 L394.9,731.4 M468.4,730.9 L450.2,730.9 M523.8,730.3 L505.6,730.3 M579.2,729.7 L560.8,729.9 M634.6,729.2 L615.9,730.0 M690.0,728.6 L671.6,730.2 M745.4,728.0 L727.7,730.6 M800.8,727.5 L784.2,731.0 M163.7,748.0 L146.2,748.0 M219.1,747.4 L201.6,747.4 M274.5,746.9 L257.0,746.9 M329.9,746.3 L312.4,746.3 M385.3,745.7 L367.8,745.7 M440.7,745.2 L423.2,745.2 M496.1,744.6 L478.6,744.6 M551.5,744.0 L534.0,744.0 M606.9,743.4 L589.1,743.9 M662.3,742.9 L645.0,743.9 M717.7,742.3 L701.3,744.0 M773.1,741.7 L757.7,744.1 M825.3,741.2 L816.2,743.1 M136.0,762.3 L119.5,762.3 M191.4,761.7 L174.9,761.7 M246.8,761.2 L230.3,761.2 M302.2,760.6 L285.7,760.6 M357.6,760.0 L341.1,760.0 M413.0,759.4 L396.5,759.4 M468.4,758.9 L451.9,758.9 M523.8,758.3 L507.3,758.3 M579.2,757.7 L562.7,757.9 M634.6,757.2 L618.4,757.8 M690.0,756.6 L674.7,757.7 M745.4,756.0 L731.1,757.6 M800.8,755.5 L791.6,756.9 M163.7,776.0 L148.6,776.0 M219.1,775.4 L204.0,775.4 M274.5,774.9 L259.4,774.9 M329.9,774.3 L314.8,774.3 M385.3,773.7 L370.2,773.7 M440.7,773.2 L425.6,773.2 M496.1,772.6 L480.9,772.6 M551.5,772.0 L536.3,772.0 M606.9,771.4 L591.8,771.8 M662.3,770.9 L648.1,771.6 M717.7,770.3 L704.4,771.4 M773.1,769.7 L763.9,770.8 M825.3,769.2 L818.0,768.9 M136.0,790.3 L122.3,790.3 M191.4,789.7 L177.7,789.7 M246.8,789.2 L233.1,789.2 M302.2,788.6 L288.5,788.6 M357.6,788.0 L343.9,788.0 M413.0,787.4 L399.3,787.4 M468.4,786.9 L454.7,786.9 M523.8,786.3 L510.1,786.3 M579.2,785.7 L565.5,785.8 M634.6,785.2 L621.4,785.6 M690.0,784.6 L677.7,785.3 M745.4,784.0 L738.1,783.8 M800.8,783.5 L793.5,783.2 M163.7,804.0 L151.4,804.0 M219.1,803.4 L206.8,803.4 M274.5,802.9 L262.2,802.9 M329.9,802.3 L317.6,802.3 M385.3,801.7 L373.0,801.7 M440.7,801.2 L428.4,801.2 M496.1,800.6 L483.8,800.6 M551.5,800.0 L539.2,800.0 M606.9,799.4 L594.7,799.7 M662.3,798.9 L650.9,799.4 M717.7,798.3 L710.4,798.1 M773.1,797.7 L765.8,797.5 M825.3,797.2 L818.0,796.9 M136.0,818.3 L124.9,818.3 M191.4,817.7 L180.3,817.7 M246.8,817.2 L235.7,817.2 M302.2,816.6 L291.1,816.6 M357.6,816.0 L346.5,816.0 M413.0,815.4 L401.9,815.4 M468.4,814.9 L457.3,814.9 M523.8,814.3 L512.7,814.3 M579.2,813.7 L568.1,813.8 M634.6,813.2 L623.9,813.5 M690.0,812.6 L682.7,812.3 M745.4,812.0 L738.1,811.8 M800.8,811.5 L793.5,811.2 M163.7,832.0 L153.6,832.0 M219.1,831.4 L209.0,831.4 M274.5,830.9 L264.4,830.9 M329.9,830.3 L319.8,830.3 M385.3,829.7 L375.2,829.7 M440.7,829.2 L430.6,829.2 M496.1,828.6 L486.0,828.6 M551.5,828.0 L541.4,828.0 M606.9,827.4 L596.9,827.6 M662.3,826.9 L655.0,826.6 M717.7,826.3 L710.4,826.1 M773.1,825.7 L765.8,825.5 M825.3,825.2 L818.0,824.9 M136.0,846.3 L126.7,846.3 M191.4,845.7 L182.1,845.7 M246.8,845.2 L237.5,845.2 M302.2,844.6 L292.9,844.6 M357.6,844.0 L348.3,844.0 M413.0,843.4 L403.7,843.4 M468.4,842.9 L459.1,842.9 M523.8,842.3 L514.5,842.3 M579.2,841.7 L569.9,841.8 M634.6,841.2 L625.5,841.4 M690.0,840.6 L682.7,840.3 M745.4,840.0 L738.1,839.8 M800.8,839.5 L793.5,839.2 M163.7,860.0 L155.0,860.0 M219.1,859.4 L210.4,859.4 M274.5,858.9 L265.8,858.9 M329.9,858.3 L321.2,858.3 M385.3,857.7 L376.6,857.7 M440.7,857.2 L432.0,857.2 M496.1,856.6 L487.4,856.6 M551.5,856.0 L542.8,856.0 M606.9,855.4 L598.2,855.6 M662.3,854.9 L655.0,854.6 M717.7,854.3 L710.4,854.1 M773.1,853.7 L765.8,853.5 M825.3,853.2 L818.0,852.9 M136.0,874.3 L127.6,874.3 M191.4,873.7 L183.0,873.7 M246.8,873.2 L238.4,873.2 M302.2,872.6 L293.8,872.6 M357.6,872.0 L349.2,872.0 M413.0,871.4 L404.6,871.4 M468.4,870.9 L460.0,870.9 M523.8,870.3 L515.4,870.3 M579.2,869.7 L570.8,869.8 M634.6,869.2 L627.3,868.9 M690.0,868.6 L682.7,868.3 M745.4,868.0 L738.1,867.8 M800.8,867.5 L793.5,867.2 M163.7,888.0 L155.6,888.0 M219.1,887.4 L211.0,887.4 M274.5,886.9 L266.4,886.9 M329.9,886.3 L321.8,886.3 M385.3,885.7 L377.2,885.7 M440.7,885.2 L432.6,885.2 M496.1,884.6 L488.0,884.6 M551.5,884.0 L544.2,883.8 M606.9,883.4 L599.6,883.2 M662.3,882.9 L655.0,882.6 M717.7,882.3 L710.4,882.1 M773.1,881.7 L765.8,881.5 M825.3,881.2 L818.0,880.9 M136.0,902.3 L128.7,902.0 M191.4,901.7 L184.1,901.5 M246.8,901.2 L239.5,900.9 M302.2,900.6 L294.9,900.3 M357.6,900.0 L350.3,899.8 M413.0,899.4 L405.0,899.4 M468.4,898.9 L460.4,898.9 M523.8,898.3 L516.5,898.1 M579.2,897.7 L571.9,897.5 M634.6,897.2 L627.3,896.9 M690.0,896.6 L682.7,896.3 M745.4,896.0 L738.1,895.8 M800.8,895.5 L793.5,895.2 M163.7,910.7 L157.4,910.5 M219.1,910.1 L212.8,909.9 M274.5,909.6 L268.2,909.4 M329.9,909.0 L323.6,908.8 M385.3,908.4 L379.0,908.2 M440.7,907.9 L434.4,907.6 M496.1,907.3 L489.8,907.1 M551.5,906.7 L545.2,906.5 M606.9,906.1 L600.6,905.9 M662.3,905.6 L656.0,905.4 M717.7,905.0 L711.4,904.8 M773.1,904.4 L766.8,904.2 M825.3,903.9 L819.0,903.7" fill="none" stroke="#2a2418" stroke-width="1.35"/>
<path d="M815.2,636.2 L807.2,634.3 L813.1,628.5 M133.0,654.3 L125.7,650.3 L133.0,646.3 M188.4,653.8 L181.1,649.7 L188.4,645.7 M243.8,653.2 L236.5,649.2 L243.8,645.1 M299.2,652.6 L291.9,648.6 L299.2,644.6 M354.6,652.0 L347.3,648.0 L354.6,644.0 M410.0,651.5 L402.7,647.4 L410.0,643.4 M465.4,650.9 L458.1,646.9 L465.4,642.9 M520.8,650.3 L513.5,646.3 L520.8,642.3 M576.2,649.8 L568.9,645.8 L576.1,641.7 M631.7,649.3 L624.3,645.6 L631.4,641.3 M687.4,648.9 L679.7,645.6 L686.6,640.9 M735.4,649.8 L727.6,647.0 L734.1,641.8 M789.2,650.7 L781.1,648.6 L787.1,642.9 M156.5,668.0 L149.2,664.0 L156.5,660.0 M211.9,667.5 L204.6,663.4 L211.9,659.4 M267.3,666.9 L260.0,662.9 L267.3,658.8 M322.7,666.3 L315.4,662.3 L322.7,658.3 M378.1,665.8 L370.8,661.7 L378.1,657.7 M433.5,665.2 L426.2,661.2 L433.5,657.1 M488.9,664.6 L481.6,660.6 L488.9,656.6 M544.3,664.0 L537.1,660.0 L544.3,656.0 M599.1,663.7 L591.7,659.8 L598.9,655.6 M652.8,663.6 L645.3,660.1 L652.3,655.6 M706.5,663.9 L698.8,660.9 L705.4,655.9 M760.4,664.7 L752.4,662.4 L758.6,656.9 M811.6,666.0 L803.5,664.5 L809.1,658.4 M127.4,682.3 L120.1,678.3 L127.4,674.3 M182.8,681.8 L175.6,677.7 L182.8,673.7 M238.2,681.2 L231.0,677.2 L238.2,673.1 M293.6,680.6 L286.4,676.6 L293.6,672.6 M349.0,680.0 L341.8,676.0 L349.0,672.0 M404.4,679.5 L397.2,675.4 L404.4,671.4 M459.8,678.9 L452.6,674.9 L459.8,670.9 M515.2,678.3 L508.0,674.3 L515.2,670.3 M570.3,677.8 L563.1,673.9 L570.3,669.8 M624.3,677.7 L616.9,674.0 L624.0,669.6 M678.1,677.9 L670.4,674.6 L677.2,669.9 M732.2,678.6 L724.3,675.9 L730.7,670.6 M786.9,679.6 L778.8,677.8 L784.7,671.9 M153.9,696.0 L146.7,692.0 L153.9,688.0 M209.3,695.5 L202.1,691.4 L209.3,687.4 M264.7,694.9 L257.5,690.9 L264.7,686.8 M320.1,694.3 L312.9,690.3 L320.1,686.3 M375.5,693.8 L368.3,689.7 L375.5,685.7 M430.9,693.2 L423.7,689.2 L430.9,685.1 M486.3,692.6 L479.1,688.6 L486.3,684.6 M541.7,692.0 L534.5,688.0 L541.7,684.0 M596.2,691.7 L588.8,687.9 L596.0,683.7 M650.1,691.8 L642.6,688.3 L649.5,683.8 M704.5,692.2 L696.7,689.3 L703.3,684.3 M759.5,693.0 L751.5,690.7 L757.7,685.1 M812.2,693.8 L804.0,692.3 L809.6,686.2 M125.4,710.3 L118.1,706.3 L125.4,702.3 M180.8,709.8 L173.5,705.7 L180.8,701.7 M236.2,709.2 L228.9,705.2 L236.2,701.1 M291.6,708.6 L284.3,704.6 L291.6,700.6 M347.0,708.0 L339.7,704.0 L347.0,700.0 M402.4,707.5 L395.1,703.4 L402.4,699.4 M457.8,706.9 L450.5,702.9 L457.8,698.9 M513.2,706.3 L505.9,702.3 L513.2,698.3 M568.2,705.9 L560.9,701.9 L568.1,697.8 M622.5,705.8 L615.1,702.1 L622.1,697.7 M677.2,705.9 L669.6,702.7 L676.4,697.9 M732.6,706.3 L724.7,703.6 L731.2,698.4 M788.7,706.8 L780.6,704.8 L786.6,699.0 M152.7,724.0 L145.4,720.0 L152.7,716.0 M208.1,723.5 L200.8,719.4 L208.1,715.4 M263.5,722.9 L256.2,718.9 L263.5,714.8 M318.9,722.3 L311.6,718.3 L318.9,714.3 M374.3,721.8 L367.0,717.7 L374.3,713.7 M429.7,721.2 L422.4,717.2 L429.7,713.1 M485.1,720.6 L477.8,716.6 L485.1,712.6 M540.5,720.0 L533.2,716.0 L540.5,712.0 M595.2,719.8 L587.8,715.9 L595.0,711.7 M650.2,719.7 L642.7,716.2 L649.7,711.7 M705.8,719.9 L698.1,716.8 L704.8,711.9 M762.1,720.0 L754.2,717.5 L760.5,712.1 M815.5,720.1 L807.4,718.2 L813.3,712.4 M125.1,738.3 L117.9,734.3 L125.1,730.3 M180.5,737.8 L173.3,733.7 L180.5,729.7 M235.9,737.2 L228.7,733.2 L235.9,729.1 M291.3,736.6 L284.1,732.6 L291.3,728.6 M346.7,736.0 L339.5,732.0 L346.7,728.0 M402.1,735.5 L394.9,731.4 L402.1,727.4 M457.5,734.9 L450.2,730.9 L457.5,726.9 M512.9,734.3 L505.6,730.3 L512.9,726.3 M568.1,733.9 L560.8,729.9 L568.0,725.8 M623.3,733.7 L615.9,730.0 L623.0,725.6 M679.2,733.6 L671.6,730.2 L678.5,725.6 M735.5,733.5 L727.7,730.6 L734.3,725.6 M792.1,733.4 L784.2,731.0 L790.5,725.5 M153.5,752.0 L146.2,748.0 L153.5,744.0 M208.9,751.5 L201.6,747.4 L208.9,743.4 M264.2,750.9 L257.0,746.9 L264.2,742.8 M319.6,750.3 L312.4,746.3 L319.6,742.3 M375.0,749.8 L367.8,745.7 L375.0,741.7 M430.4,749.2 L423.2,745.2 L430.4,741.1 M485.8,748.6 L478.6,744.6 L485.8,740.6 M541.2,748.0 L534.0,744.0 L541.2,740.0 M596.5,747.7 L589.1,743.9 L596.3,739.7 M652.5,747.5 L645.0,743.9 L652.0,739.5 M708.9,747.3 L701.3,744.0 L708.1,739.3 M765.5,747.0 L757.7,744.1 L764.2,739.0 M824.1,745.6 L816.2,743.1 L822.5,737.7 M126.8,766.3 L119.5,762.3 L126.8,758.3 M182.2,765.8 L174.9,761.7 L182.2,757.7 M237.6,765.2 L230.3,761.2 L237.6,757.1 M293.0,764.6 L285.7,760.6 L293.0,756.6 M348.4,764.0 L341.1,760.0 L348.4,756.0 M403.8,763.5 L396.5,759.4 L403.8,755.4 M459.2,762.9 L451.9,758.9 L459.2,754.9 M514.6,762.3 L507.3,758.3 L514.6,754.3 M569.9,761.8 L562.7,757.9 L569.9,753.8 M625.8,761.5 L618.4,757.8 L625.5,753.5 M682.2,761.2 L674.7,757.7 L681.7,753.2 M738.8,760.8 L731.1,757.6 L737.9,752.8 M799.4,759.7 L791.6,756.9 L798.2,751.8 M155.8,780.0 L148.6,776.0 L155.8,772.0 M211.2,779.5 L204.0,775.4 L211.2,771.4 M266.6,778.9 L259.4,774.9 L266.6,770.8 M322.0,778.3 L314.8,774.3 L322.0,770.3 M377.4,777.8 L370.2,773.7 L377.4,769.7 M432.8,777.2 L425.6,773.2 L432.8,769.1 M488.2,776.6 L480.9,772.6 L488.2,768.6 M543.6,776.0 L536.3,772.0 L543.6,768.0 M599.1,775.6 L591.8,771.8 L599.0,767.6 M655.5,775.2 L648.1,771.6 L655.1,767.2 M712.0,774.8 L704.4,771.4 L711.3,766.8 M771.5,774.0 L763.9,770.8 L770.6,766.0 M825.1,773.2 L818.0,768.9 L825.4,765.2 M129.5,794.3 L122.3,790.3 L129.5,786.3 M184.9,793.8 L177.7,789.7 L184.9,785.7 M240.3,793.2 L233.1,789.2 L240.3,785.1 M295.7,792.6 L288.5,788.6 L295.7,784.6 M351.1,792.0 L343.9,788.0 L351.1,784.0 M406.5,791.5 L399.3,787.4 L406.5,783.4 M461.9,790.9 L454.7,786.9 L461.9,782.9 M517.3,790.3 L510.1,786.3 L517.3,782.3 M572.7,789.8 L565.5,785.8 L572.7,781.8 M628.8,789.4 L621.4,785.6 L628.5,781.3 M685.2,788.9 L677.7,785.3 L684.7,780.9 M745.2,788.0 L738.1,783.8 L745.5,780.0 M800.6,787.5 L793.5,783.2 L800.9,779.4 M158.6,808.0 L151.4,804.0 L158.6,800.0 M214.0,807.5 L206.8,803.4 L214.0,799.4 M269.4,806.9 L262.2,802.9 L269.4,798.8 M324.8,806.3 L317.6,802.3 L324.8,798.3 M380.2,805.8 L373.0,801.7 L380.2,797.7 M435.6,805.2 L428.4,801.2 L435.6,797.1 M491.0,804.6 L483.8,800.6 L491.0,796.6 M546.4,804.0 L539.2,800.0 L546.4,796.0 M602.0,803.6 L594.7,799.7 L601.8,795.5 M658.3,803.1 L650.9,799.4 L657.9,795.0 M717.5,802.3 L710.4,798.1 L717.8,794.3 M772.9,801.8 L765.8,797.5 L773.2,793.7 M825.1,801.2 L818.0,796.9 L825.4,793.2 M132.2,822.3 L124.9,818.3 L132.2,814.3 M187.6,821.8 L180.3,817.7 L187.6,813.7 M243.0,821.2 L235.7,817.2 L243.0,813.1 M298.4,820.6 L291.1,816.6 L298.4,812.6 M353.8,820.0 L346.5,816.0 L353.8,812.0 M409.2,819.5 L401.9,815.4 L409.2,811.4 M464.5,818.9 L457.3,814.9 L464.5,810.9 M519.9,818.3 L512.7,814.3 L519.9,810.3 M575.4,817.8 L568.1,813.8 L575.3,809.7 M631.3,817.3 L623.9,813.5 L631.1,809.2 M689.8,816.6 L682.7,812.3 L690.1,808.6 M745.2,816.0 L738.1,811.8 L745.5,808.0 M800.6,815.5 L793.5,811.2 L800.9,807.4 M160.9,836.0 L153.6,832.0 L160.9,828.0 M216.3,835.5 L209.0,831.4 L216.3,827.4 M271.7,834.9 L264.4,830.9 L271.7,826.8 M327.1,834.3 L319.8,830.3 L327.1,826.3 M382.5,833.8 L375.2,829.7 L382.5,825.7 M437.9,833.2 L430.6,829.2 L437.9,825.1 M493.3,832.6 L486.0,828.6 L493.3,824.6 M548.7,832.0 L541.4,828.0 L548.7,824.0 M604.2,831.5 L596.9,827.6 L604.1,823.5 M662.1,830.9 L655.0,826.6 L662.4,822.9 M717.5,830.3 L710.4,826.1 L717.8,822.3 M772.9,829.8 L765.8,825.5 L773.2,821.7 M825.1,829.2 L818.0,824.9 L825.4,821.2 M134.0,850.3 L126.7,846.3 L134.0,842.3 M189.4,849.8 L182.1,845.7 L189.4,841.7 M244.8,849.2 L237.5,845.2 L244.8,841.1 M300.2,848.6 L292.9,844.6 L300.2,840.6 M355.6,848.0 L348.3,844.0 L355.6,840.0 M411.0,847.5 L403.7,843.4 L411.0,839.4 M466.3,846.9 L459.1,842.9 L466.3,838.9 M521.7,846.3 L514.5,842.3 L521.7,838.3 M577.2,845.8 L569.9,841.8 L577.1,837.7 M632.9,845.2 L625.5,841.4 L632.7,837.2 M689.8,844.6 L682.7,840.3 L690.1,836.6 M745.2,844.0 L738.1,839.8 L745.5,836.0 M800.6,843.5 L793.5,839.2 L800.9,835.4 M162.2,864.0 L155.0,860.0 L162.2,856.0 M217.6,863.5 L210.4,859.4 L217.6,855.4 M273.0,862.9 L265.8,858.9 L273.0,854.8 M328.4,862.3 L321.2,858.3 L328.4,854.3 M383.8,861.8 L376.6,857.7 L383.8,853.7 M439.2,861.2 L432.0,857.2 L439.2,853.1 M494.6,860.6 L487.4,856.6 L494.6,852.6 M550.0,860.0 L542.8,856.0 L550.0,852.0 M605.5,859.5 L598.2,855.6 L605.4,851.5 M662.1,858.9 L655.0,854.6 L662.4,850.9 M717.5,858.3 L710.4,854.1 L717.8,850.3 M772.9,857.8 L765.8,853.5 L773.2,849.7 M825.1,857.2 L818.0,852.9 L825.4,849.2 M134.9,878.3 L127.6,874.3 L134.9,870.3 M190.3,877.8 L183.0,873.7 L190.3,869.7 M245.7,877.2 L238.4,873.2 L245.7,869.1 M301.1,876.6 L293.8,872.6 L301.1,868.6 M356.5,876.0 L349.2,872.0 L356.5,868.0 M411.9,875.5 L404.6,871.4 L411.9,867.4 M467.3,874.9 L460.0,870.9 L467.3,866.9 M522.7,874.3 L515.4,870.3 L522.7,866.3 M578.1,873.8 L570.8,869.8 L578.1,865.7 M634.4,873.2 L627.3,868.9 L634.7,865.1 M689.8,872.6 L682.7,868.3 L690.1,864.6 M745.2,872.0 L738.1,867.8 L745.5,864.0 M800.6,871.5 L793.5,867.2 L800.9,863.4 M162.8,892.0 L155.6,888.0 L162.8,884.0 M218.2,891.5 L211.0,887.4 L218.2,883.4 M273.6,890.9 L266.4,886.9 L273.6,882.8 M329.0,890.3 L321.8,886.3 L329.0,882.3 M384.4,889.8 L377.2,885.7 L384.4,881.7 M439.8,889.2 L432.6,885.2 L439.8,881.1 M495.2,888.6 L488.0,884.6 L495.2,880.6 M551.3,888.0 L544.2,883.8 L551.6,880.0 M606.7,887.5 L599.6,883.2 L607.0,879.4 M662.1,886.9 L655.0,882.6 L662.4,878.9 M717.5,886.3 L710.4,882.1 L717.8,878.3 M772.9,885.8 L765.8,881.5 L773.2,877.7 M825.1,885.2 L818.0,880.9 L825.4,877.2 M135.8,906.3 L128.7,902.0 L136.1,898.3 M191.2,905.7 L184.1,901.5 L191.5,897.7 M246.6,905.2 L239.5,900.9 L246.9,897.1 M302.0,904.6 L294.9,900.3 L302.3,896.6 M357.4,904.0 L350.3,899.8 L357.7,896.0 M412.3,903.5 L405.0,899.4 L412.3,895.4 M467.7,902.9 L460.4,898.9 L467.7,894.9 M523.6,902.3 L516.5,898.1 L523.9,894.3 M579.0,901.8 L571.9,897.5 L579.3,893.7 M634.4,901.2 L627.3,896.9 L634.7,893.1 M689.8,900.6 L682.7,896.3 L690.1,892.6 M745.2,900.0 L738.1,895.8 L745.5,892.0 M800.6,899.5 L793.5,895.2 L800.9,891.4 M164.5,914.8 L157.4,910.5 L164.8,906.7 M219.9,914.2 L212.8,909.9 L220.2,906.2 M275.3,913.6 L268.2,909.4 L275.6,905.6 M330.7,913.1 L323.6,908.8 L331.0,905.0 M386.1,912.5 L379.0,908.2 L386.4,904.4 M441.5,911.9 L434.4,907.6 L441.8,903.9 M496.9,911.3 L489.8,907.1 L497.2,903.3 M552.3,910.8 L545.2,906.5 L552.6,902.7 M607.7,910.2 L600.6,905.9 L608.0,902.2 M663.1,909.6 L656.0,905.4 L663.4,901.6 M718.5,909.1 L711.4,904.8 L718.8,901.0 M773.9,908.5 L766.8,904.2 L774.2,900.4 M826.1,908.0 L819.0,903.7 L826.4,899.9" fill="none" stroke="#080808" stroke-width="2.3" stroke-linejoin="miter" stroke-miterlimit="8"/>
<g clip-path="url(#clipL)">
<path class="wall7" d="M64.4,633.7 L776,625 L940,567.5"/>
<path class="wall7" d="M940,727.3 L815,778 L940,817.9"/>
<path class="wall7" d="M64.4,924 L771,918 L940,972.2"/>
</g>
<path d="M268,988.8 L189,988.8 M197,984.5 L189,988.8 L197,993" fill="none" stroke="#111" stroke-width="1.3"/>
<text class="ab" x="153.5" y="1029" textLength="141" lengthAdjust="spacingAndGlyphs">200 cm/s</text>
<rect x="363" y="974.4" width="261.6" height="29.6" fill="url(#gradC)" stroke="#8f8f9a" stroke-width="0.8"/>
<text class="ab" x="349" y="1041.7">60</text>
<text class="ab" x="609.5" y="1041.7">0 cms<tspan class="sup" dy="-12">-1</tspan></text>
<!-- panel d -->
<path d="M1064.5,643.0 C1070.3,643.2 1088.8,643.5 1099.4,644.5 C1110.0,645.5 1116.1,647.5 1128.0,648.7 C1139.9,650.0 1156.7,652.0 1171.0,652.0 C1185.3,652.0 1199.5,650.3 1213.8,648.7 C1228.1,647.1 1244.8,644.1 1256.7,642.4 C1268.6,640.7 1273.1,639.6 1285.0,638.7 C1296.9,637.8 1317.5,638.2 1328.0,637.0 C1338.5,635.8 1341.3,634.1 1348.0,631.5 C1354.7,628.9 1364.7,623.2 1368.0,621.5 L1368,617 L1726.8,613 L1726.8,616.0 C1723.5,618.1 1714.8,624.2 1706.7,628.7 C1698.6,633.2 1687.5,638.8 1678.0,643.0 C1668.5,647.2 1661.4,650.7 1649.5,654.0 C1637.6,657.3 1623.3,661.0 1606.6,663.0 C1589.8,665.0 1569.3,665.2 1549.0,665.9 C1528.7,666.6 1507.5,667.1 1485.0,667.0 C1462.5,666.9 1435.3,665.5 1414.0,665.0 C1392.7,664.5 1378.5,664.0 1357.0,664.0 C1335.5,664.0 1304.2,664.5 1285.0,665.0 C1265.8,665.5 1253.9,665.7 1242.0,667.0 C1230.1,668.3 1224.2,670.9 1213.8,673.0 C1203.4,675.1 1191.5,679.4 1179.5,679.6 C1167.5,679.8 1155.3,676.7 1142.0,674.4 C1128.7,672.1 1112.3,668.0 1099.4,665.9 C1086.5,663.8 1070.3,662.3 1064.5,661.6Z" fill="#a3bff5" stroke="#9a9a9a" stroke-width="0.8"/>
<path d="M1462.0,616.0 C1464.7,618.1 1468.2,624.2 1478.0,628.7 C1487.8,633.2 1506.5,639.0 1520.8,643.0 C1535.1,647.0 1549.4,651.2 1563.7,653.0 C1578.0,654.8 1592.3,655.0 1606.6,654.0 C1620.9,653.0 1637.6,650.0 1649.5,647.0 C1661.4,644.0 1668.5,639.8 1678.0,635.8 C1687.5,631.8 1700.0,626.6 1706.7,623.0 C1713.4,619.4 1716.1,615.5 1718.0,614.0Z" fill="#5a82f0" stroke="#9a9a9a" stroke-width="0.8"/>
<path d="M1576.6,615.0 C1579.7,617.5 1587.6,626.5 1595.0,630.0 C1602.4,633.5 1611.9,634.6 1621.0,635.8 C1630.1,637.0 1640.9,637.5 1649.5,637.0 C1658.1,636.5 1665.3,635.3 1672.4,633.0 C1679.5,630.7 1687.7,626.2 1692.0,623.0 C1696.3,619.8 1697.0,615.5 1698.0,614.0Z" fill="#0026c8" stroke="#9a9a9a" stroke-width="0.8"/>
<path d="M1399.8,706.0 C1402.2,705.5 1399.8,703.6 1414.0,703.0 C1428.2,702.4 1467.2,703.0 1485.0,702.5 C1502.8,702.0 1505.3,701.6 1520.8,700.0 C1536.3,698.4 1564.2,694.5 1578.0,693.0 C1591.8,691.5 1598.1,690.8 1603.8,691.0 C1609.5,691.2 1610.6,693.9 1612.0,694.5 L1612.0,694.5 C1609.2,696.2 1603.0,701.9 1595.0,704.5 C1587.0,707.1 1576.1,708.6 1563.7,710.0 C1551.3,711.4 1533.9,712.7 1520.8,713.0 C1507.7,713.3 1502.8,712.1 1485.0,711.6 C1467.2,711.1 1428.2,710.9 1414.0,710.0 C1399.8,709.1 1402.2,706.7 1399.8,706.0Z" fill="#fdfca8" stroke="#9a9a9a" stroke-width="0.8"/>
<path d="M1546.6,707.0 C1548.0,705.8 1556.5,704.5 1563.7,703.0 C1570.9,701.5 1584.5,698.2 1589.5,698.0 C1594.5,697.8 1595.6,700.1 1593.7,701.6 C1591.8,703.1 1584.5,705.6 1578.0,707.0 C1571.5,708.4 1560.2,710.0 1555.0,710.0 C1549.8,710.0 1545.1,708.2 1546.6,707.0Z" fill="#f58b65" stroke="#9a9a9a" stroke-width="0.8"/>
<path d="M1068.0,810.0 C1075.6,809.6 1098.9,808.7 1113.7,807.5 C1128.5,806.3 1139.9,805.1 1156.6,803.0 C1173.3,800.9 1194.7,796.9 1213.8,794.6 C1232.9,792.3 1252.0,790.9 1271.0,789.0 C1290.0,787.1 1308.9,785.4 1328.0,783.0 C1347.1,780.6 1366.4,777.4 1385.5,774.6 C1404.6,771.8 1425.0,768.4 1442.7,766.0 C1460.5,763.6 1474.3,761.7 1492.0,760.0 C1509.7,758.3 1529.9,757.2 1549.0,756.0 C1568.1,754.8 1589.5,753.8 1606.6,753.0 C1623.7,752.2 1635.6,752.0 1651.7,751.0 C1667.8,750.0 1688.4,749.2 1703.4,747.3 C1718.5,745.4 1729.1,742.5 1742.0,739.5 C1754.9,736.5 1770.1,732.2 1780.9,729.0 C1791.7,725.8 1802.4,721.5 1806.7,720.0 L1806.7,746.0 C1800.2,748.9 1781.0,757.2 1768.0,763.3 C1755.0,769.4 1739.8,777.0 1729.0,782.6 C1718.2,788.2 1713.1,791.8 1703.4,796.8 C1693.7,801.8 1681.8,807.6 1671.0,812.4 C1660.2,817.1 1650.6,821.6 1638.8,825.3 C1627.0,828.9 1615.0,832.1 1600.0,834.3 C1585.0,836.5 1568.2,837.2 1549.0,838.5 C1529.8,839.8 1507.5,840.2 1485.0,842.0 C1462.5,843.8 1435.3,847.4 1414.0,849.0 C1392.7,850.6 1376.1,851.1 1357.0,851.8 C1337.9,852.5 1318.7,853.0 1299.6,853.0 C1280.5,853.0 1261.5,852.6 1242.4,851.8 C1223.3,851.0 1204.1,849.1 1185.0,848.4 C1165.9,847.7 1147.5,847.7 1128.0,847.5 C1108.5,847.3 1078.0,847.1 1068.0,847.0Z" fill="#fdfca8" stroke="#9a9a9a" stroke-width="0.8"/>
<path d="M1213.8,805.0 C1216.2,803.3 1228.1,801.0 1242.4,799.7 C1256.7,798.4 1280.5,798.2 1299.6,797.4 C1318.7,796.5 1337.9,795.8 1357.0,794.6 C1376.1,793.4 1391.5,792.4 1414.0,790.0 C1436.5,787.6 1469.5,782.8 1492.0,780.0 C1514.5,777.2 1529.9,774.9 1549.0,773.0 C1568.1,771.1 1587.3,769.9 1606.6,768.8 C1625.9,767.7 1650.3,766.4 1664.6,766.2 C1678.9,766.0 1684.9,766.1 1692.4,767.4 C1699.9,768.7 1706.0,771.7 1709.6,774.0 C1713.2,776.3 1714.5,777.9 1714.0,781.3 C1713.5,784.7 1711.2,790.5 1706.7,794.6 C1702.2,798.7 1696.2,802.7 1686.7,806.0 C1677.2,809.3 1664.0,812.5 1649.5,814.6 C1635.0,816.7 1623.8,817.4 1600.0,818.8 C1576.2,820.2 1532.7,822.0 1506.5,823.0 C1480.3,824.0 1462.9,824.4 1442.7,824.6 C1422.5,824.8 1404.6,824.5 1385.5,824.0 C1366.4,823.5 1347.1,823.0 1328.0,821.7 C1308.9,820.4 1287.7,818.0 1271.0,816.0 C1254.3,814.0 1237.5,811.8 1228.0,810.0 C1218.5,808.2 1211.4,806.7 1213.8,805.0Z" fill="#fcc419" stroke="#9a9a9a" stroke-width="0.8"/>
<path d="M1483.6,794.6 C1486.0,791.8 1505.1,787.7 1520.8,784.6 C1536.5,781.5 1559.0,778.4 1578.0,776.0 C1597.0,773.6 1618.3,771.6 1635.0,770.5 C1651.7,769.4 1667.5,768.9 1678.0,769.5 C1688.5,770.1 1693.2,771.6 1698.0,774.0 C1702.8,776.4 1706.6,780.6 1706.6,784.0 C1706.6,787.4 1702.8,791.6 1698.0,794.6 C1693.2,797.6 1688.5,800.0 1678.0,801.7 C1667.5,803.4 1656.4,804.1 1635.0,804.6 C1613.6,805.1 1570.8,805.1 1549.4,804.6 C1528.0,804.1 1517.5,803.4 1506.5,801.7 C1495.5,800.0 1481.2,797.5 1483.6,794.6Z" fill="#f58b65" stroke="#9a9a9a" stroke-width="0.8"/>
<path d="M1516.5,791.7 C1518.9,790.1 1534.4,789.1 1549.4,787.4 C1564.4,785.7 1587.5,783.3 1606.6,781.7 C1625.7,780.1 1650.4,778.2 1663.8,777.6 C1677.2,777.0 1681.1,777.2 1686.7,777.8 C1692.3,778.4 1695.5,779.7 1697.5,781.0 C1699.5,782.3 1699.7,783.8 1698.8,785.5 C1697.9,787.2 1695.5,789.6 1692.0,791.0 C1688.5,792.4 1687.5,793.3 1678.0,794.0 C1668.5,794.7 1651.7,794.6 1635.0,795.2 C1618.3,795.8 1594.7,797.1 1578.0,797.4 C1561.3,797.7 1545.2,797.8 1535.0,796.9 C1524.8,796.0 1514.1,793.3 1516.5,791.7Z" fill="#ff0505" stroke="#9a9a9a" stroke-width="0.8"/>
<path class="ct" d="M1063.7,698.8 C1069.7,699.6 1090.1,702.9 1099.4,703.6 C1108.7,704.3 1111.8,704.5 1119.4,703.0 C1127.0,701.5 1136.4,696.5 1145.0,694.5 C1153.6,692.5 1161.2,691.8 1171.0,691.0 C1180.8,690.2 1198.5,690.2 1204.0,690.0"/>
<path class="ct" d="M1239.6,689.0 C1249.6,688.8 1275.3,688.8 1299.6,688.0 C1323.9,687.2 1354.6,685.7 1385.5,684.5 C1416.4,683.3 1457.8,682.0 1485.0,680.7 C1512.2,679.5 1529.8,678.8 1549.0,677.0 C1568.2,675.2 1585.0,672.5 1600.0,669.8 C1615.0,667.1 1625.9,664.4 1638.8,660.7 C1651.7,657.0 1664.6,652.6 1677.5,647.8 C1690.4,643.0 1705.0,636.7 1716.0,632.0 C1727.0,627.3 1738.8,621.5 1743.4,619.4"/>
<path class="ct" d="M1063.7,706.0 C1071.1,706.5 1096.3,709.3 1108.0,708.8 C1119.7,708.3 1124.7,705.0 1133.7,703.0 C1142.7,701.0 1152.0,697.9 1162.0,696.8 C1172.0,695.7 1188.5,696.5 1193.8,696.5"/>
<path class="ct" d="M1063.7,723.0 C1067.2,723.5 1077.1,723.8 1085.0,726.0 C1092.9,728.2 1105.2,732.7 1110.9,736.0 C1116.6,739.3 1119.4,743.2 1119.4,746.0 C1119.4,748.8 1116.6,751.8 1110.9,753.0 C1105.2,754.2 1092.9,754.0 1085.0,753.0 C1077.1,752.0 1067.2,748.0 1063.7,747.0"/>
<path class="ct" d="M1063.7,757.4 C1068.7,757.8 1083.9,759.8 1093.7,760.0 C1103.5,760.2 1116.8,761.1 1122.3,758.8 C1127.8,756.5 1126.1,749.6 1126.6,746.0 C1127.0,742.4 1125.3,738.5 1125.0,737.0"/>
<path class="ct" d="M1066.5,795.4 C1076.8,795.4 1108.2,795.3 1128.0,795.4 C1147.8,795.5 1171.2,796.6 1185.0,796.0 C1198.8,795.4 1203.8,794.4 1211.0,791.7 C1218.2,789.0 1223.8,784.3 1228.0,780.0 C1232.2,775.7 1234.8,771.7 1236.5,766.0 C1238.2,760.3 1238.4,752.7 1238.0,746.0 C1237.6,739.3 1233.9,731.7 1233.9,726.0 C1233.9,720.3 1236.2,715.3 1238.0,711.6 C1239.8,707.9 1241.7,704.9 1245.0,703.6 C1248.3,702.3 1253.7,703.4 1258.0,704.0 C1262.3,704.6 1266.5,707.2 1271.0,707.0 C1275.5,706.8 1280.2,704.0 1285.0,703.0 C1289.8,702.0 1295.8,700.5 1299.6,700.8 C1303.4,701.1 1306.1,702.3 1308.0,705.0 C1309.9,707.7 1311.2,712.1 1311.0,717.0 C1310.8,721.9 1307.3,729.2 1306.8,734.5 C1306.3,739.8 1305.8,745.0 1308.0,748.8 C1310.2,752.6 1314.0,755.9 1319.7,757.4 C1325.5,758.9 1334.9,759.0 1342.5,758.0 C1350.1,757.0 1358.2,754.2 1365.4,751.7 C1372.6,749.2 1378.3,745.9 1385.5,743.0 C1392.7,740.1 1401.6,736.3 1408.3,734.5 C1415.0,732.7 1419.0,731.8 1425.5,732.0 C1432.0,732.2 1443.4,735.3 1447.0,736.0"/>
<path class="ct" d="M1352.0,722.0 C1350.2,720.3 1342.8,714.5 1341.0,712.0 C1339.2,709.5 1339.8,708.5 1341.0,707.0 C1342.2,705.5 1345.3,703.8 1348.0,703.0 C1350.7,702.2 1355.5,702.6 1357.0,702.5"/>
<path class="ct" d="M1397.0,720.0 C1404.2,720.3 1425.3,721.5 1440.0,722.0 C1454.7,722.5 1470.0,722.9 1485.0,723.0 C1500.0,723.1 1515.0,723.5 1530.0,722.5 C1545.0,721.5 1560.1,721.1 1575.0,717.0 C1589.9,712.9 1608.8,702.7 1619.4,698.0 C1630.0,693.3 1632.8,692.0 1638.8,689.0 C1644.8,686.0 1651.6,683.2 1655.6,680.0 C1659.6,676.8 1662.2,672.2 1663.0,670.0 C1663.8,667.8 1662.6,667.0 1660.7,666.5 C1658.8,666.0 1657.5,665.5 1651.7,667.0 C1645.9,668.5 1634.4,673.1 1625.8,675.6 C1617.2,678.1 1611.0,679.9 1600.0,682.0 C1589.0,684.1 1573.3,686.8 1560.0,688.5 C1546.7,690.2 1526.7,691.4 1520.0,692.0"/>
<path class="ct" d="M1500.0,745.0 C1508.2,745.2 1532.3,746.7 1549.0,746.5 C1565.7,746.3 1585.0,745.8 1600.0,744.0 C1615.0,742.2 1625.9,738.4 1638.8,735.7 C1651.7,733.0 1664.6,730.4 1677.5,728.0 C1690.4,725.6 1703.1,723.8 1716.0,721.4 C1728.9,719.0 1740.1,716.8 1755.0,713.7 C1769.9,710.6 1797.0,704.5 1805.4,702.7"/>
<path class="ct" d="M1796.4,604.5 C1795.3,606.3 1793.1,611.5 1790.0,615.5 C1786.9,619.5 1782.8,624.7 1778.0,628.4 C1773.2,632.1 1769.7,635.1 1761.5,637.5 C1753.3,639.9 1738.7,640.5 1729.0,642.6 C1719.3,644.8 1711.6,647.2 1703.4,650.4 C1695.2,653.6 1685.6,658.4 1680.0,662.0 C1674.4,665.6 1671.7,668.8 1669.8,672.0 C1667.9,675.2 1667.6,678.6 1668.5,681.4 C1669.4,684.2 1671.3,687.4 1675.0,689.0 C1678.7,690.6 1684.6,691.4 1690.4,691.0 C1696.2,690.6 1703.4,688.4 1709.8,686.6 C1716.2,684.8 1721.5,681.5 1729.0,680.0 C1736.5,678.5 1746.3,677.7 1755.0,677.5 C1763.7,677.3 1772.5,678.7 1780.9,678.8 C1789.3,678.9 1801.3,678.1 1805.4,678.0"/>
<path class="ct" d="M1804.0,629.7 C1800.2,631.2 1789.1,636.0 1780.9,638.8 C1772.7,641.6 1764.7,644.1 1755.0,646.5 C1745.3,648.9 1732.4,650.6 1722.7,653.0 C1713.0,655.4 1704.1,657.9 1697.0,660.7 C1689.9,663.5 1683.7,667.0 1680.0,669.8 C1676.3,672.6 1675.0,675.1 1675.0,677.5 C1675.0,679.9 1676.3,683.1 1680.0,684.0 C1683.7,684.9 1691.0,684.0 1697.0,682.7 C1703.0,681.4 1708.5,678.4 1716.0,676.0 C1723.5,673.6 1733.3,670.2 1742.0,668.5 C1750.7,666.8 1757.4,666.8 1768.0,665.9 C1778.6,665.0 1799.2,663.5 1805.4,663.0"/>
<path class="ct" d="M1066.5,868.4 C1086.2,868.0 1141.4,866.9 1185.0,866.0 C1228.6,865.1 1287.2,864.2 1328.0,863.0 C1368.8,861.8 1403.8,859.9 1430.0,858.5 C1456.2,857.1 1465.2,856.0 1485.0,854.6 C1504.8,853.2 1529.8,851.9 1549.0,850.0 C1568.2,848.1 1585.0,846.0 1600.0,843.4 C1615.0,840.8 1627.0,837.8 1638.8,834.3 C1650.6,830.8 1661.3,827.0 1671.0,822.7 C1680.7,818.4 1689.5,813.0 1697.0,808.5 C1704.5,804.0 1706.6,801.4 1716.3,795.6 C1726.0,789.8 1740.4,780.8 1755.0,773.6 C1769.6,766.4 1795.8,755.8 1804.0,752.3"/>
<path class="ct" d="M1600.0,846.5 C1606.5,845.0 1627.0,840.8 1638.8,837.3 C1650.6,833.8 1661.3,830.0 1671.0,825.7 C1680.7,821.4 1689.5,816.0 1697.0,811.5 C1704.5,807.0 1706.6,804.4 1716.3,798.6 C1726.0,792.8 1741.0,783.6 1755.0,776.6 C1769.0,769.6 1792.5,759.9 1800.0,756.5"/>
<path class="ct" d="M1066.5,894.7 C1076.8,892.8 1098.8,885.5 1128.0,883.0 C1157.2,880.5 1203.8,880.7 1242.0,880.0 C1280.2,879.3 1324.0,879.8 1357.0,879.0 C1390.0,878.2 1426.2,875.7 1440.0,875.0"/>
<path class="ct" d="M1467.0,871.5 C1470.0,870.8 1477.0,868.0 1485.0,867.5 C1493.0,867.0 1510.0,868.3 1515.0,868.5"/>
<path class="ct" d="M1566.0,874.0 C1571.7,873.0 1587.9,871.0 1600.0,868.0 C1612.1,865.0 1628.0,860.4 1638.8,856.3 C1649.6,852.2 1657.1,847.7 1664.6,843.4 C1672.1,839.1 1678.4,834.9 1684.0,830.4 C1689.6,825.9 1693.7,820.5 1698.0,816.2 C1702.3,811.9 1709.1,804.4 1709.8,804.6 C1710.5,804.8 1703.3,812.8 1702.0,817.5 C1700.7,822.2 1700.7,828.1 1702.0,833.0 C1703.3,837.9 1706.8,843.1 1709.8,847.0 C1712.8,850.9 1718.1,853.5 1720.0,856.3 C1721.9,859.1 1722.0,860.1 1721.4,864.0 C1720.8,867.9 1718.2,875.0 1716.3,879.5 C1714.4,884.0 1711.9,886.9 1709.8,891.0 C1707.7,895.1 1704.5,901.8 1703.4,904.0"/>
<path class="ct" d="M1066.5,901.8 C1074.4,900.1 1094.0,893.7 1113.7,891.8 C1133.5,889.9 1154.0,891.1 1185.0,890.4 C1216.0,889.7 1261.4,888.7 1299.6,887.5 C1337.8,886.3 1383.1,884.4 1414.0,883.0 C1444.9,881.6 1462.5,878.5 1485.0,879.0 C1507.5,879.5 1529.8,886.3 1549.0,886.0 C1568.2,885.7 1586.2,880.2 1600.0,877.0 C1613.8,873.8 1622.3,870.1 1632.0,866.6 C1641.7,863.1 1650.4,859.1 1658.0,856.3 C1665.6,853.5 1672.3,851.1 1677.5,849.8 C1682.7,848.5 1686.2,848.1 1689.0,848.5 C1691.8,848.9 1693.2,851.4 1694.0,852.0"/>
<path class="ct" d="M1066.5,904.7 C1076.8,904.2 1098.8,903.2 1128.0,901.8 C1157.2,900.3 1203.8,897.2 1242.0,896.0 C1280.2,894.8 1316.5,895.6 1357.0,894.7 C1397.5,893.8 1451.2,890.7 1485.0,890.4 C1518.8,890.1 1540.8,893.4 1560.0,893.0 C1579.2,892.6 1586.7,890.8 1600.0,888.0 C1613.3,885.2 1633.3,878.0 1640.0,876.0"/>
<path class="ct" d="M1805.4,787.8 C1801.3,788.1 1788.2,788.6 1780.9,789.7 C1773.6,790.8 1767.1,792.5 1761.5,794.3 C1755.9,796.1 1749.7,799.6 1747.3,800.7"/>
<path class="ct" d="M1721.4,825.3 C1720.8,827.0 1717.4,832.0 1717.6,835.6 C1717.8,839.2 1720.1,842.9 1722.7,847.0 C1725.3,851.1 1729.8,857.0 1733.0,860.0 C1736.2,863.0 1738.8,865.1 1742.0,865.3 C1745.2,865.5 1748.2,863.5 1752.5,861.4 C1756.8,859.2 1762.2,854.8 1768.0,852.4 C1773.8,850.0 1781.1,848.1 1787.3,847.0 C1793.5,845.9 1802.4,846.2 1805.4,846.0"/>
<path class="ct" d="M1805.4,858.0 C1802.4,857.9 1793.5,856.8 1787.3,857.6 C1781.1,858.4 1773.0,860.3 1768.0,862.7 C1763.0,865.1 1759.9,868.1 1757.6,871.8 C1755.3,875.5 1754.8,879.2 1754.4,884.7 C1754.0,890.2 1754.9,901.6 1755.0,905.0"/>
<path class="ct" d="M1805.4,871.0 C1802.4,871.3 1792.5,871.4 1787.3,873.0 C1782.1,874.6 1777.5,877.8 1774.4,880.8 C1771.4,883.8 1769.9,886.3 1769.0,891.0 C1768.1,895.7 1769.0,906.0 1769.0,909.0"/>
<ellipse class="ct" cx="1165" cy="740" rx="25" ry="36" transform="rotate(8 1165 740)"/>
<ellipse class="ct" cx="1162.5" cy="740" rx="18" ry="28.5" transform="rotate(8 1162.5 740)"/>
<ellipse class="ct" cx="1159.5" cy="738" rx="6.5" ry="18" transform="rotate(6 1159.5 738)"/>
<path class="ct" d="M1175.5,785.0 C1176.4,782.1 1181.0,777.7 1185.0,774.5 C1189.0,771.3 1196.2,769.8 1199.5,766.0 C1202.8,762.2 1202.6,756.0 1205.0,751.7 C1207.4,747.4 1210.9,742.6 1213.8,740.0 C1216.7,737.4 1219.5,736.0 1222.4,736.0 C1225.3,736.0 1229.3,736.9 1231.0,740.0 C1232.7,743.1 1233.0,749.8 1232.5,754.6 C1232.0,759.4 1230.2,764.8 1228.0,769.0 C1225.8,773.2 1222.8,776.7 1219.5,780.0 C1216.2,783.3 1212.8,786.8 1208.0,789.0 C1203.2,791.2 1195.8,792.5 1191.0,793.0 C1186.2,793.5 1182.1,793.0 1179.5,791.7 C1176.9,790.4 1174.6,787.9 1175.5,785.0Z"/>
<g clip-path="url(#clipR)">
<path class="wall7l" d="M1056,621 L1752,611 L1945,546.6"/>
<path class="wall7l" d="M1945,704.3 L1789.6,766.9 L1945,816.5"/>
<path class="wall7l" d="M1052.8,913.8 L1750,908 L1945,972.2"/>
</g>
<text class="lbc" x="1222.4" y="691.2">0</text>
<text class="lbc" x="1050.8" y="725.2">0</text>
<text class="lbc" x="1131.0" y="732.7">1</text>
<text class="lbc" transform="translate(1369.7 718.8) rotate(14.0)" x="0" y="-1.8">2.5</text>
<text class="lbc" transform="translate(1473.0 741.0) rotate(10.0)" x="0" y="-1.8">2.5</text>
<text class="lbc" x="1036.5" y="866.6">2.5</text>
<text class="lbc" transform="translate(1454.0 873.0) rotate(-12.0)" x="0" y="-1.8">1</text>
<text class="lbc" transform="translate(1538.0 879.0) rotate(-8.0)" x="0" y="-1.8">0.5</text>
<text class="lbc" transform="translate(1816.0 625.8) rotate(-20.0)" x="0" y="-1.8">0</text>
<text class="lbc" x="1816.0" y="675.2">1</text>
<text class="lbc" transform="translate(1737.0 810.4) rotate(-50.0)" x="0" y="-1.8">-1</text>
<text class="lbc" x="1818.0" y="855.2">0</text>
<text class="lbc" transform="translate(1689.0 877.0) rotate(80.0)" x="0" y="-1.8">0.2</text>
<text class="lbc" x="1700.0" y="927.2">0</text>
<text class="lbc" transform="translate(1772.5 939.0) rotate(15.0)" x="0" y="-1.8">0.5</text>
<rect x="1399.5" y="939.4" width="218.8" height="21.2" fill="url(#gradD)" stroke="#aaa" stroke-width="0.6"/>
<text class="ab2" x="1363.5" y="997.2">-10</text>
<text class="ab2" x="1430.5" y="997.2">5</text>
<text class="ab2" x="1485.5" y="997.2">0</text>
<text class="ab2" x="1532.5" y="997.2">10</text>
<text class="ab2" x="1597" y="997.2" textLength="142" lengthAdjust="spacingAndGlyphs">20 cm<tspan class="sup" dy="-11">2</tspan><tspan dy="11">s</tspan><tspan class="sup" dy="-11">-2</tspan></text>
<!-- panel e -->
<path d="M138.0,1163.0 C139.8,1162.0 140.7,1158.4 148.7,1156.7 C156.7,1155.0 170.3,1154.5 186.0,1153.0 C201.7,1151.5 224.0,1149.4 243.0,1148.0 C262.0,1146.6 284.2,1144.4 300.0,1144.4 C315.8,1144.4 325.5,1147.8 337.5,1148.0 C349.5,1148.2 361.4,1147.6 371.9,1145.8 C382.4,1144.0 392.4,1139.5 400.5,1137.0 C408.6,1134.5 417.2,1132.0 420.5,1131.0 L420.5,1129 L631.6,1127 L631.6,1130.0 C630.4,1131.2 628.6,1133.9 624.5,1137.0 C620.4,1140.1 613.7,1145.6 607.0,1148.7 C600.3,1151.8 597.7,1153.9 584.4,1155.8 C571.1,1157.7 541.1,1159.5 527.0,1160.0 C512.9,1160.5 516.3,1158.0 500.0,1158.7 C483.7,1159.4 452.7,1161.6 429.0,1164.0 C405.3,1166.4 379.1,1170.1 357.6,1173.0 C336.1,1175.9 315.8,1179.8 300.0,1181.6 C284.2,1183.4 277.2,1184.2 263.0,1183.9 C248.8,1183.6 229.7,1181.6 214.5,1180.0 C199.3,1178.4 183.5,1176.3 171.6,1174.4 C159.7,1172.5 148.6,1170.6 143.0,1168.7 C137.4,1166.8 138.8,1164.0 138.0,1163.0Z" fill="#7b63ff" stroke="#9a9a9a" stroke-width="0.8"/>
<ellipse cx="261.7" cy="1167.9" rx="31" ry="6" transform="rotate(-12 261.7 1167.9)" fill="#0008c0"/>
<ellipse cx="457.7" cy="1145" rx="38" ry="6.8" transform="rotate(-4 457.7 1145)" fill="#0008c0"/>
<path d="M317.0,1250.0 C318.8,1248.4 323.7,1247.1 330.0,1246.0 C336.3,1244.9 346.4,1244.2 354.7,1243.5 C363.0,1242.8 373.9,1241.5 380.0,1241.5 C386.1,1241.5 389.2,1242.2 391.0,1243.5 C392.8,1244.8 392.8,1247.6 391.0,1249.0 C389.2,1250.4 386.1,1251.4 380.0,1252.0 C373.9,1252.6 363.0,1252.0 354.7,1252.5 C346.4,1253.0 335.9,1254.5 330.0,1255.0 C324.1,1255.5 321.2,1256.3 319.0,1255.5 C316.8,1254.7 315.2,1251.6 317.0,1250.0Z" fill="#fcbb14" stroke="#9a9a9a" stroke-width="0.8"/>
<ellipse cx="530" cy="1235.5" rx="18.5" ry="9.2" transform="rotate(8 530 1235.5)" fill="#fcbb14" stroke="#9a9a9a" stroke-width="0.8"/>
<path d="M311.8,1276.0 C311.8,1274.1 323.5,1271.4 343.0,1269.7 C362.5,1268.0 402.8,1267.0 429.0,1266.0 C455.2,1265.0 474.1,1264.2 500.0,1263.5 C525.9,1262.8 556.1,1262.3 584.4,1261.7 C612.7,1261.1 646.2,1260.2 670.0,1259.7 C693.8,1259.2 713.1,1258.0 727.4,1258.8 C741.7,1259.6 749.5,1262.3 756.0,1264.5 C762.5,1266.7 766.2,1269.1 766.7,1272.0 C767.2,1274.9 765.5,1279.1 759.0,1281.7 C752.5,1284.3 742.2,1286.7 727.4,1287.4 C712.6,1288.1 693.8,1286.7 670.0,1286.0 C646.2,1285.3 612.7,1283.8 584.4,1283.0 C556.1,1282.2 525.9,1281.1 500.0,1281.0 C474.1,1280.9 455.2,1282.6 429.0,1282.6 C402.8,1282.6 362.5,1282.1 343.0,1281.0 C323.5,1279.9 311.8,1277.9 311.8,1276.0Z" fill="#fdfca8" stroke="#9a9a9a" stroke-width="0.8"/>
<path d="M437.6,1274.5 C437.6,1273.3 453.0,1271.0 463.4,1270.0 C473.8,1269.0 479.8,1269.5 500.0,1268.8 C520.2,1268.1 556.1,1266.8 584.4,1266.0 C612.7,1265.2 646.2,1264.0 670.0,1263.7 C693.8,1263.5 714.1,1263.5 727.4,1264.5 C740.7,1265.5 745.5,1268.0 750.0,1270.0 C754.5,1272.0 755.7,1274.2 754.3,1276.5 C752.9,1278.8 751.0,1282.4 741.7,1283.7 C732.5,1285.0 720.2,1285.2 698.8,1284.6 C677.3,1284.0 646.1,1281.1 613.0,1280.0 C579.9,1278.9 524.9,1278.2 500.0,1277.8 C475.1,1277.4 473.8,1278.0 463.4,1277.4 C453.0,1276.9 437.6,1275.7 437.6,1274.5Z" fill="#fcc419" stroke="#9a9a9a" stroke-width="0.8"/>
<path d="M615.5,1275.0 C615.5,1273.7 630.1,1272.2 641.6,1271.7 C653.1,1271.2 670.2,1271.5 684.5,1272.0 C698.8,1272.5 717.7,1273.4 727.4,1274.6 C737.1,1275.8 741.2,1277.6 742.6,1279.0 C744.0,1280.4 743.3,1282.2 736.0,1282.8 C728.7,1283.4 714.5,1283.3 698.8,1282.8 C683.1,1282.3 655.5,1281.0 641.6,1279.7 C627.7,1278.4 615.5,1276.3 615.5,1275.0Z" fill="#ff0a05" stroke="#9a9a9a" stroke-width="0.8"/>
<path d="M655.0,1329.0 C655.0,1325.7 672.4,1320.3 684.5,1317.5 C696.6,1314.7 715.5,1312.5 727.4,1312.0 C739.3,1311.5 747.9,1313.2 756.0,1314.6 C764.1,1316.0 771.9,1318.4 776.0,1320.5 C780.1,1322.6 781.6,1324.2 780.6,1327.0 C779.6,1329.8 778.1,1335.1 770.0,1337.5 C761.9,1339.9 746.0,1341.6 731.8,1341.6 C717.5,1341.6 697.3,1339.6 684.5,1337.5 C671.7,1335.4 655.0,1332.3 655.0,1329.0Z" fill="#a3bff8" stroke="#9a9a9a" stroke-width="0.8"/>
<ellipse cx="733.7" cy="1327" rx="34.5" ry="5.8" fill="#5179f0"/>
<path class="ct" d="M94.4,1192.5 C107.3,1192.3 144.4,1192.0 171.6,1191.6 C198.8,1191.2 228.8,1191.4 257.4,1190.0 C286.0,1188.6 314.4,1185.3 343.0,1183.0 C371.6,1180.7 402.8,1177.6 429.0,1175.9 C455.2,1174.2 478.2,1174.3 500.0,1173.0 C521.8,1171.7 543.3,1169.7 560.0,1168.0 C576.7,1166.3 589.5,1164.9 600.0,1162.7 C610.5,1160.5 615.8,1158.3 623.0,1155.0 C630.2,1151.7 637.7,1146.5 643.4,1142.6 C649.1,1138.7 655.1,1133.5 657.4,1131.7"/>
<path class="ct" d="M94.4,1211.0 C100.1,1209.7 115.8,1204.8 128.7,1203.0 C141.6,1201.2 150.2,1200.6 171.6,1200.0 C193.0,1199.4 228.8,1200.5 257.4,1199.6 C286.0,1198.7 314.4,1196.3 343.0,1194.5 C371.6,1192.7 402.8,1190.1 429.0,1188.7 C455.2,1187.3 478.2,1187.7 500.0,1185.9 C521.8,1184.1 543.3,1180.3 560.0,1178.0 C576.7,1175.7 588.2,1173.5 600.0,1172.0 C611.8,1170.5 622.0,1170.3 631.0,1169.0 C640.0,1167.7 647.5,1165.4 654.0,1164.0 C660.5,1162.6 667.2,1161.0 669.8,1160.4"/>
<path class="ct" d="M698.4,1151.9 C701.4,1150.4 710.5,1146.2 716.3,1142.6 C722.1,1138.9 730.5,1132.1 733.3,1130.0"/>
<path class="ct" d="M97.0,1254.0 C109.4,1251.7 149.6,1244.7 171.6,1240.0 C193.6,1235.3 209.7,1230.7 228.8,1226.0 C247.9,1221.3 267.0,1215.9 286.0,1211.6 C305.0,1207.3 324.0,1202.8 343.0,1200.0 C362.0,1197.2 380.9,1195.9 400.0,1194.5 C419.1,1193.1 441.0,1192.3 457.7,1191.6 C474.4,1190.8 482.9,1191.8 500.0,1190.0 C517.0,1188.2 543.3,1183.5 560.0,1181.0 C576.7,1178.5 588.2,1176.5 600.0,1175.0 C611.8,1173.5 622.5,1172.0 631.0,1172.0 C639.5,1172.0 644.5,1172.9 651.0,1175.0 C657.5,1177.1 662.8,1181.2 669.8,1184.4 C676.8,1187.7 684.5,1192.2 693.0,1194.5 C701.5,1196.8 710.7,1198.5 721.0,1198.4 C731.3,1198.3 744.2,1196.3 755.0,1193.7 C765.8,1191.1 774.9,1188.1 786.0,1182.9 C797.1,1177.7 815.8,1166.1 821.7,1162.7"/>
<path class="ct" d="M828.0,1203.0 C821.0,1205.8 798.2,1215.6 786.0,1220.0 C773.8,1224.4 765.8,1227.1 755.0,1229.4 C744.2,1231.7 730.8,1233.4 721.0,1234.0 C711.2,1234.6 703.2,1234.0 696.0,1233.0 C688.8,1232.0 683.2,1230.5 677.5,1227.8 C671.8,1225.1 665.2,1221.1 662.0,1217.0 C658.8,1212.9 658.4,1207.4 658.0,1203.0 C657.6,1198.6 660.4,1193.9 659.7,1190.6 C659.0,1187.2 656.7,1185.0 654.0,1182.9 C651.3,1180.8 648.6,1179.0 643.4,1178.0 C638.2,1177.0 630.2,1176.5 623.0,1176.7 C615.8,1176.9 610.5,1177.5 600.0,1179.0 C589.5,1180.5 576.7,1183.2 560.0,1186.0 C543.3,1188.8 519.5,1193.2 500.0,1196.0 C480.5,1198.8 464.4,1198.5 443.0,1203.0 C421.6,1207.5 398.1,1215.8 371.9,1223.0 C345.7,1230.2 312.2,1238.8 286.0,1246.0 C259.8,1253.2 236.0,1260.5 214.5,1266.0 C193.0,1271.5 171.3,1275.5 157.0,1278.8 C142.7,1282.1 134.3,1283.8 128.7,1286.0 C123.1,1288.2 123.1,1289.8 123.6,1291.7 C124.1,1293.6 123.6,1295.2 131.6,1297.4 C139.6,1299.6 150.7,1302.5 171.6,1304.6 C192.5,1306.7 232.3,1308.6 257.0,1310.0 C281.7,1311.4 309.5,1312.5 320.0,1313.0"/>
<path class="ct" d="M371.9,1313.0 C381.4,1312.5 407.6,1311.4 429.0,1310.0 C450.4,1308.6 478.2,1306.1 500.0,1304.6 C521.8,1303.1 543.3,1301.9 560.0,1301.0 C576.7,1300.1 585.6,1299.7 600.0,1299.0 C614.4,1298.3 631.0,1297.5 646.5,1297.0 C662.0,1296.5 678.8,1296.4 693.0,1295.7 C707.2,1295.0 720.2,1294.7 731.8,1292.6 C743.4,1290.5 752.5,1287.1 762.8,1283.0 C773.1,1278.9 782.7,1273.0 793.8,1267.8 C804.9,1262.6 823.5,1254.6 829.5,1251.9"/>
<path class="ct" d="M94.4,1379.8 C100.1,1377.5 115.8,1370.7 128.7,1366.0 C141.6,1361.3 159.7,1354.5 171.6,1351.8 C183.5,1349.1 188.1,1348.8 200.0,1349.8 C211.9,1350.8 228.7,1355.3 243.0,1357.5 C257.3,1359.7 274.1,1362.3 286.0,1363.0 C297.9,1363.7 300.3,1364.1 314.6,1361.8 C328.9,1359.5 352.8,1353.5 371.9,1349.0 C391.0,1344.5 407.6,1338.9 429.0,1334.6 C450.4,1330.3 478.2,1325.4 500.0,1323.0 C521.8,1320.6 543.3,1320.9 560.0,1320.0 C576.7,1319.1 585.6,1318.9 600.0,1317.4 C614.4,1315.9 631.0,1313.1 646.5,1311.0 C662.0,1308.9 680.1,1306.5 693.0,1305.0 C705.9,1303.5 715.0,1303.5 724.0,1301.9 C733.0,1300.4 739.5,1298.3 747.3,1295.7 C755.0,1293.1 763.4,1289.2 770.5,1286.4 C777.6,1283.6 786.8,1280.2 790.0,1279.0"/>
<path class="ct" d="M127.0,1418.0 C129.7,1415.8 137.5,1408.4 143.0,1404.7 C148.5,1401.0 157.2,1397.5 160.0,1396.0"/>
<path class="ct" d="M230.0,1370.0 C236.9,1369.8 257.6,1367.5 271.7,1369.0 C285.8,1370.5 302.7,1376.7 314.6,1379.0 C326.5,1381.3 333.4,1382.7 343.0,1382.7 C352.6,1382.7 359.9,1382.3 371.9,1379.0 C383.9,1375.7 400.5,1367.1 414.8,1363.0 C429.1,1358.9 443.5,1356.5 457.7,1354.6 C471.9,1352.7 482.9,1351.6 500.0,1351.8 C517.0,1352.0 543.3,1354.8 560.0,1356.0 C576.7,1357.2 585.6,1358.0 600.0,1359.0 C614.4,1360.0 631.0,1360.4 646.5,1362.0 C662.0,1363.6 678.8,1366.9 693.0,1368.5 C707.2,1370.1 721.5,1370.0 731.8,1371.6 C742.1,1373.1 749.1,1374.9 755.0,1377.8 C760.9,1380.7 764.6,1384.6 767.4,1388.7 C770.2,1392.8 771.0,1397.9 772.0,1402.6 C773.0,1407.2 773.3,1414.3 773.6,1416.6"/>
<path class="ct" d="M238.8,1417.6 C241.8,1415.7 249.1,1409.6 257.0,1406.0 C264.9,1402.4 276.4,1398.2 286.0,1396.0 C295.6,1393.8 302.7,1393.2 314.6,1393.0 C326.5,1392.8 344.2,1395.0 357.6,1394.7 C371.0,1394.4 385.6,1392.7 394.7,1391.0 C403.8,1389.3 409.1,1385.8 412.0,1384.7"/>
<path class="ct" d="M442.0,1373.0 C446.0,1372.0 458.7,1367.2 466.0,1367.0 C473.3,1366.8 480.3,1369.6 486.0,1371.8 C491.7,1374.0 495.2,1377.0 500.0,1380.0 C504.8,1383.0 509.2,1387.7 515.0,1390.0 C520.8,1392.3 527.5,1394.3 535.0,1394.0 C542.5,1393.7 552.8,1391.2 560.0,1388.0 C567.2,1384.8 571.3,1376.4 578.0,1375.0 C584.7,1373.6 592.5,1377.6 600.0,1379.4 C607.5,1381.2 615.2,1383.8 623.0,1385.6 C630.8,1387.4 637.9,1388.8 646.5,1390.0 C655.1,1391.2 666.6,1391.8 674.4,1392.6 C682.1,1393.4 687.3,1393.2 693.0,1394.9 C698.7,1396.6 703.8,1399.2 708.5,1402.6 C713.2,1405.9 718.9,1412.9 721.0,1415.0"/>
<path class="ct" d="M303.0,1417.6 C307.3,1416.3 312.8,1412.6 329.0,1410.0 C345.2,1407.4 379.1,1404.1 400.5,1401.8 C421.9,1399.5 441.1,1396.3 457.7,1396.0 C474.3,1395.7 487.9,1398.7 500.0,1400.0 C512.0,1401.3 518.3,1404.7 530.0,1404.0 C541.7,1403.3 558.3,1397.8 570.0,1396.0 C581.7,1394.2 589.8,1393.7 600.0,1393.0 C610.2,1392.3 620.7,1391.8 631.0,1391.8 C641.3,1391.8 653.0,1392.0 662.0,1393.0 C671.0,1394.0 677.8,1395.7 685.0,1398.0 C692.2,1400.3 700.3,1404.2 705.4,1407.0 C710.5,1409.8 713.8,1413.7 715.5,1415.0"/>
<path class="ct" d="M580.0,1417.0 C583.3,1415.3 591.5,1409.7 600.0,1407.0 C608.5,1404.3 620.7,1402.4 631.0,1401.0 C641.3,1399.6 653.0,1398.5 662.0,1398.8 C671.0,1399.1 678.5,1400.9 685.0,1402.6 C691.5,1404.3 696.5,1406.7 700.8,1408.8 C705.1,1410.9 709.2,1414.0 710.9,1415.0"/>
<path class="ct" d="M652.7,1344.5 C659.4,1345.2 679.8,1347.5 693.0,1348.4 C706.2,1349.3 720.2,1350.3 731.8,1350.0 C743.4,1349.7 754.3,1348.9 762.8,1346.8 C771.3,1344.7 778.2,1341.1 783.0,1337.5 C787.8,1333.9 791.5,1328.9 791.5,1325.0 C791.5,1321.1 789.1,1317.1 783.0,1314.3 C776.9,1311.5 764.8,1309.0 755.0,1308.0 C745.2,1307.0 736.9,1307.2 724.0,1308.0 C711.1,1308.8 693.0,1310.9 677.5,1312.7 C662.0,1314.5 643.9,1317.2 631.0,1319.0 C618.1,1320.8 611.8,1322.1 600.0,1323.6 C588.2,1325.1 573.3,1326.8 560.0,1328.0 C546.7,1329.2 530.7,1330.0 520.0,1330.5 C509.3,1331.0 500.8,1330.5 496.0,1331.0 C491.2,1331.5 491.0,1332.7 491.0,1333.5 C491.0,1334.3 487.8,1335.2 496.0,1336.0 C504.2,1336.8 527.0,1337.3 540.0,1338.0 C553.0,1338.7 568.3,1339.7 574.0,1340.0"/>
<path class="ct" d="M800.0,1280.0 C797.9,1280.3 790.4,1280.2 787.6,1281.7 C784.8,1283.2 783.3,1286.4 783.0,1288.7 C782.7,1291.0 782.9,1293.8 786.0,1295.7 C789.1,1297.6 795.9,1299.9 801.6,1300.3 C807.3,1300.7 814.8,1299.2 820.0,1298.0 C825.2,1296.8 830.5,1293.8 832.6,1293.0"/>
<path class="ct" d="M843.4,1296.4 C840.3,1298.1 830.5,1302.2 824.8,1306.5 C819.1,1310.8 813.7,1316.6 809.3,1322.0 C804.9,1327.4 801.5,1333.6 798.4,1339.0 C795.3,1344.4 792.0,1352.0 790.7,1354.6"/>
<path class="ct" d="M779.8,1384.0 C779.4,1386.6 778.1,1394.1 777.5,1399.5 C776.9,1404.9 776.2,1413.8 776.0,1416.6"/>
<path class="ct" d="M818.6,1367.0 C816.5,1368.8 809.6,1373.1 806.0,1377.8 C802.4,1382.5 799.4,1387.8 797.0,1395.0 C794.6,1402.2 792.4,1416.7 791.5,1421.0"/>
<g clip-path="url(#clipL)">
<path class="wall7l" d="M63,1135 L770,1126 L940,1067.6"/>
<path class="wall7l" d="M940,1224.7 L809.5,1277.6 L940,1320.8"/>
<path class="wall7l" d="M65,1423.8 L767.5,1418 L940,1473.7"/>
</g>
<text class="lbc" x="73.0" y="1194.2">-1</text>
<text class="lbc" x="79.5" y="1254.2">1</text>
<text class="lbc" x="77.8" y="1377.2">0</text>
<text class="lbc" transform="translate(191.6 1380.0) rotate(-17.0)" x="0" y="-1.8">-0.25</text>
<text class="lbc" x="344.7" y="1311.2">2.5</text>
<text class="lbc" transform="translate(426.0 1378.0) rotate(-10.0)" x="0" y="-1.8">0</text>
<text class="lbc" x="299.0" y="1441.2">0.5</text>
<text class="lbc" transform="translate(683.7 1155.7) rotate(-15.0)" x="0" y="-1.8">0</text>
<text class="lbc" transform="translate(831.0 1155.0) rotate(-35.0)" x="0" y="-1.8">1</text>
<text class="lbc" transform="translate(849.6 1189.0) rotate(-40.0)" x="0" y="-1.8">2.5</text>
<text class="lbc" transform="translate(614.5 1343.0) rotate(5.0)" x="0" y="-1.8">-0.25</text>
<text class="lbc" transform="translate(784.5 1370.9) rotate(-62.0)" x="0" y="-1.8">0</text>
<text class="lbc" transform="translate(845.0 1346.0) rotate(-48.0)" x="0" y="-1.8">0.25</text>
<text class="lbc" x="574.4" y="1441.2">1</text>
<rect x="426.7" y="1478.8" width="208" height="21.2" fill="url(#gradD)" stroke="#aaa" stroke-width="0.6"/>
<text class="ab2" x="402.5" y="1543">-5</text>
<text class="ab2" x="496.5" y="1543">0</text>
<text class="ab2" x="561.5" y="1543">5</text>
<text class="ab2" x="608" y="1543" textLength="143" lengthAdjust="spacingAndGlyphs">10 cm<tspan class="sup" dy="-11">2</tspan><tspan dy="11">s</tspan><tspan class="sup" dy="-11">-2</tspan></text>
<!-- panel f -->
<path d="M1551.0,1130.0 C1553.8,1131.6 1561.3,1136.5 1568.0,1139.5 C1574.7,1142.5 1583.4,1146.2 1591.3,1148.0 C1599.2,1149.8 1606.3,1150.5 1615.5,1150.3 C1624.7,1150.1 1638.0,1148.8 1646.5,1147.0 C1655.0,1145.2 1661.0,1142.3 1666.7,1139.5 C1672.4,1136.7 1678.3,1131.6 1680.6,1130.0Z" fill="#fcc10f" stroke="#9a9a9a" stroke-width="0.8"/>
<rect x="1161" y="1268.2" width="84.4" height="15.6" rx="26" ry="7.8" transform="rotate(-1 1203 1276)" fill="#fcc10f" stroke="#9a9a9a" stroke-width="0.8"/>
<path d="M1344.0,1279.8 C1346.6,1277.3 1365.3,1274.3 1382.0,1272.0 C1398.7,1269.7 1423.3,1268.0 1444.0,1265.8 C1464.7,1263.6 1485.3,1261.0 1506.0,1258.8 C1526.7,1256.6 1549.0,1254.3 1568.0,1252.6 C1587.0,1250.9 1606.9,1249.7 1620.0,1248.8 C1633.1,1247.9 1636.9,1247.2 1646.5,1247.2 C1656.1,1247.2 1667.2,1247.8 1677.5,1248.8 C1687.8,1249.8 1699.5,1251.6 1708.5,1253.4 C1717.5,1255.2 1725.9,1257.7 1731.8,1259.6 C1737.7,1261.5 1741.4,1263.3 1744.0,1265.0 C1746.6,1266.7 1748.0,1267.6 1747.3,1269.7 C1746.5,1271.8 1744.7,1274.6 1739.5,1277.4 C1734.3,1280.2 1726.6,1284.0 1716.3,1286.7 C1706.0,1289.4 1693.5,1292.2 1677.5,1293.7 C1661.5,1295.2 1648.6,1295.5 1620.0,1295.5 C1591.4,1295.5 1537.9,1294.4 1506.0,1293.7 C1474.1,1293.0 1451.8,1292.6 1428.5,1291.4 C1405.2,1290.2 1380.6,1288.6 1366.5,1286.7 C1352.4,1284.8 1341.4,1282.2 1344.0,1279.8Z" fill="#fcc10f" stroke="#9a9a9a" stroke-width="0.8"/>
<path d="M1585.0,1279.8 C1585.0,1276.4 1592.3,1269.8 1600.0,1266.6 C1607.7,1263.4 1620.7,1261.7 1631.0,1260.4 C1641.3,1259.1 1653.0,1258.7 1662.0,1258.8 C1671.0,1258.9 1679.3,1259.7 1685.0,1261.0 C1690.7,1262.3 1693.9,1264.9 1696.0,1266.6 C1698.1,1268.3 1698.7,1268.9 1697.7,1271.0 C1696.7,1273.1 1694.7,1276.7 1690.0,1279.0 C1685.3,1281.3 1678.3,1283.5 1669.8,1285.0 C1661.3,1286.5 1650.4,1287.7 1638.8,1288.0 C1627.2,1288.3 1609.0,1288.1 1600.0,1286.7 C1591.0,1285.3 1585.0,1283.2 1585.0,1279.8Z" fill="#ff4a05" stroke="#9a9a9a" stroke-width="0.8"/>
<path d="M1464.0,1333.6 C1466.6,1331.3 1478.3,1325.8 1490.5,1323.6 C1502.7,1321.4 1518.8,1321.3 1537.0,1320.5 C1555.2,1319.7 1579.2,1319.7 1600.0,1318.8 C1620.8,1317.9 1643.9,1315.6 1662.0,1315.0 C1680.1,1314.4 1695.6,1314.2 1708.5,1315.0 C1721.4,1315.8 1731.2,1317.5 1739.5,1319.6 C1747.8,1321.7 1754.6,1325.1 1758.0,1327.4 C1761.4,1329.7 1761.0,1331.4 1759.7,1333.6 C1758.4,1335.8 1756.4,1339.0 1750.4,1340.5 C1744.5,1342.0 1738.7,1343.0 1724.0,1342.9 C1709.3,1342.8 1682.7,1340.6 1662.0,1339.8 C1641.3,1339.0 1620.8,1338.6 1600.0,1338.2 C1579.2,1337.8 1557.8,1337.6 1537.0,1337.5 C1516.2,1337.4 1487.2,1338.2 1475.0,1337.5 C1462.8,1336.8 1461.4,1335.9 1464.0,1333.6Z" fill="#a3a1fc" stroke="#9a9a9a" stroke-width="0.8"/>
<ellipse cx="1698" cy="1330.8" rx="46" ry="5.4" transform="rotate(1.5 1698 1330.8)" fill="#5656f8"/>
<ellipse cx="1721.7" cy="1386" rx="16.4" ry="4.3" transform="rotate(55.6 1721.7 1386)" fill="#fcc10f" stroke="#9a9a9a" stroke-width="0.8"/>
<path class="ct" d="M1061.0,1167.0 C1065.2,1167.3 1078.4,1168.2 1086.5,1169.0 C1094.6,1169.8 1103.1,1170.5 1109.8,1172.0 C1116.5,1173.5 1122.9,1175.7 1126.8,1178.0 C1130.7,1180.3 1132.7,1183.4 1133.0,1186.0 C1133.3,1188.6 1132.3,1191.6 1128.4,1193.7 C1124.5,1195.8 1116.0,1196.9 1109.8,1198.4 C1103.6,1200.0 1095.7,1200.9 1091.0,1203.0 C1086.3,1205.1 1083.7,1207.7 1081.9,1210.8 C1080.1,1213.9 1079.5,1217.7 1080.3,1221.6 C1081.1,1225.5 1082.9,1230.6 1086.5,1234.0 C1090.1,1237.4 1096.3,1241.0 1102.0,1241.8 C1107.7,1242.6 1114.6,1240.5 1120.6,1238.7 C1126.5,1236.9 1132.5,1233.2 1137.7,1231.0 C1142.9,1228.8 1147.2,1225.0 1151.6,1225.5 C1156.0,1226.0 1160.6,1230.5 1164.0,1234.0 C1167.4,1237.5 1167.9,1244.6 1171.8,1246.4 C1175.7,1248.2 1183.4,1247.2 1187.3,1244.9 C1191.2,1242.6 1192.2,1237.4 1195.0,1232.5 C1197.8,1227.6 1200.9,1219.7 1204.3,1215.4 C1207.7,1211.1 1211.6,1207.4 1215.2,1206.9 C1218.8,1206.4 1222.9,1209.3 1226.0,1212.3 C1229.1,1215.3 1230.7,1221.6 1233.8,1224.7 C1236.9,1227.8 1240.3,1230.7 1244.7,1231.0 C1249.1,1231.3 1255.3,1229.1 1260.0,1226.3 C1264.7,1223.5 1270.8,1218.3 1272.6,1213.9 C1274.4,1209.5 1273.6,1203.8 1271.0,1199.9 C1268.4,1196.0 1260.9,1193.9 1257.0,1190.6 C1253.1,1187.2 1248.8,1183.4 1247.8,1179.8 C1246.8,1176.2 1246.8,1171.5 1250.9,1168.9 C1255.0,1166.3 1261.1,1165.2 1272.6,1164.3 C1284.1,1163.4 1304.3,1163.5 1320.0,1163.5 C1335.7,1163.5 1351.0,1163.9 1366.5,1164.3 C1382.0,1164.7 1397.5,1165.5 1413.0,1165.8 C1428.5,1166.0 1444.0,1166.0 1459.5,1165.8 C1475.0,1165.5 1487.9,1164.8 1506.0,1164.3 C1524.1,1163.8 1551.2,1163.6 1568.0,1162.7 C1584.8,1161.8 1593.7,1160.1 1606.8,1158.8 C1619.9,1157.5 1633.5,1157.2 1646.5,1155.0 C1659.5,1152.8 1674.2,1149.9 1685.0,1145.7 C1695.8,1141.5 1707.2,1132.6 1711.6,1130.0"/>
<path class="ct" d="M1181.0,1135.6 C1180.9,1137.3 1181.8,1142.2 1180.3,1145.7 C1178.8,1149.2 1175.5,1153.4 1171.8,1156.5 C1168.0,1159.6 1161.7,1161.5 1157.8,1164.3 C1153.9,1167.1 1151.1,1170.2 1148.5,1173.6 C1145.9,1176.9 1144.4,1181.3 1142.3,1184.4 C1140.2,1187.5 1139.1,1189.9 1136.0,1192.0 C1132.9,1194.1 1129.4,1195.3 1123.7,1196.8 C1118.0,1198.2 1107.5,1199.2 1102.0,1200.7 C1096.5,1202.2 1093.5,1203.5 1091.0,1206.0 C1088.5,1208.5 1087.3,1212.0 1087.3,1215.4 C1087.3,1218.8 1087.8,1223.5 1091.0,1226.3 C1094.2,1229.1 1100.7,1232.0 1106.7,1232.5 C1112.7,1233.0 1120.9,1231.0 1126.8,1229.4 C1132.7,1227.8 1137.6,1224.4 1142.3,1223.0 C1147.0,1221.6 1151.1,1220.4 1154.7,1220.9 C1158.3,1221.5 1160.6,1224.4 1164.0,1226.3 C1167.4,1228.2 1171.0,1232.0 1174.9,1232.5 C1178.8,1233.0 1184.2,1231.7 1187.3,1229.4 C1190.4,1227.1 1193.2,1222.4 1193.5,1218.5 C1193.8,1214.6 1191.1,1210.1 1188.8,1206.0 C1186.5,1201.9 1181.0,1198.1 1179.5,1193.7 C1178.0,1189.3 1178.2,1184.5 1179.5,1179.8 C1180.8,1175.1 1182.6,1169.7 1187.3,1165.8 C1192.0,1161.9 1195.8,1158.5 1207.4,1156.5 C1219.0,1154.5 1238.2,1154.8 1257.0,1154.0 C1275.8,1153.2 1301.8,1151.9 1320.0,1151.9 C1338.2,1151.9 1351.0,1153.2 1366.5,1154.0 C1382.0,1154.8 1400.1,1155.8 1413.0,1156.5 C1425.9,1157.2 1428.5,1158.2 1444.0,1158.4 C1459.5,1158.6 1485.3,1158.0 1506.0,1157.8 C1526.7,1157.6 1549.0,1157.6 1568.0,1157.3 C1587.0,1157.0 1606.9,1156.9 1620.0,1155.7 C1633.1,1154.5 1636.9,1152.5 1646.5,1150.3 C1656.1,1148.1 1669.8,1145.5 1677.5,1142.6 C1685.2,1139.7 1690.4,1134.6 1693.0,1133.0"/>
<path class="ct" d="M1134.6,1199.0 C1130.5,1199.7 1116.0,1201.5 1109.8,1203.0 C1103.6,1204.5 1100.2,1205.6 1097.4,1207.7 C1094.6,1209.8 1092.5,1212.9 1092.7,1215.4 C1093.0,1218.0 1095.3,1221.2 1098.9,1223.0 C1102.5,1224.8 1108.7,1226.5 1114.4,1226.3 C1120.1,1226.1 1127.3,1223.3 1133.0,1221.6 C1138.7,1219.9 1143.6,1216.3 1148.5,1216.0 C1153.4,1215.7 1158.4,1218.3 1162.5,1220.0 C1166.6,1221.7 1170.0,1225.6 1173.3,1226.3 C1176.6,1227.0 1180.5,1225.8 1182.6,1224.0 C1184.7,1222.2 1186.0,1218.1 1185.7,1215.4 C1185.4,1212.7 1183.1,1210.0 1181.0,1207.7 C1178.9,1205.4 1174.6,1202.5 1173.3,1201.5"/>
<path class="ct" d="M1340.0,1172.0 C1334.5,1172.8 1315.4,1174.6 1306.7,1176.7 C1298.0,1178.8 1292.4,1180.8 1288.0,1184.4 C1283.6,1188.0 1282.1,1193.2 1280.3,1198.4 C1278.5,1203.6 1279.6,1210.5 1277.0,1215.4 C1274.4,1220.3 1270.7,1224.2 1264.8,1227.8 C1258.9,1231.4 1250.6,1234.7 1241.6,1237.0 C1232.5,1239.3 1218.3,1239.7 1210.5,1241.8 C1202.7,1243.9 1200.2,1247.2 1195.0,1249.5 C1189.8,1251.8 1183.9,1255.2 1179.5,1255.7 C1175.1,1256.2 1171.8,1254.7 1168.7,1252.6 C1165.6,1250.5 1164.1,1245.4 1161.0,1243.0 C1157.9,1240.6 1153.7,1237.4 1150.0,1238.0 C1146.3,1238.6 1142.9,1242.4 1139.0,1246.4 C1135.1,1250.4 1130.9,1258.4 1126.8,1262.0 C1122.7,1265.6 1121.1,1265.0 1114.4,1267.8 C1107.7,1270.6 1093.3,1275.2 1086.5,1278.6 C1079.7,1281.9 1075.5,1284.5 1073.3,1287.9 C1071.1,1291.3 1071.6,1294.4 1073.3,1298.8 C1075.0,1303.2 1078.6,1309.6 1083.4,1314.3 C1088.2,1319.0 1095.3,1324.1 1102.0,1326.7 C1108.7,1329.3 1116.5,1330.3 1123.7,1329.8 C1130.9,1329.3 1138.7,1326.7 1145.4,1323.6 C1152.1,1320.5 1158.3,1314.8 1164.0,1311.0 C1169.7,1307.2 1174.8,1303.0 1179.5,1301.0 C1184.2,1299.0 1187.3,1298.1 1192.0,1298.8 C1196.7,1299.5 1203.3,1301.7 1207.4,1305.0 C1211.5,1308.3 1214.5,1313.5 1216.7,1318.9 C1218.9,1324.3 1220.3,1330.5 1220.6,1337.5 C1220.9,1344.5 1219.7,1353.0 1218.3,1360.8 C1216.9,1368.5 1215.1,1377.5 1212.0,1384.0 C1208.9,1390.5 1204.6,1395.8 1199.7,1399.5 C1194.8,1403.2 1185.4,1405.3 1182.6,1406.5"/>
<path class="ct" d="M1340.0,1172.0 C1344.4,1173.2 1358.3,1177.3 1366.5,1179.0 C1374.7,1180.7 1385.2,1181.5 1389.0,1182.0"/>
<path class="ct" d="M1320.0,1175.0 L1343.0,1176.0"/>
<path class="ct" d="M1064.8,1341.0 C1069.7,1340.9 1084.0,1341.2 1094.0,1340.6 C1104.0,1340.0 1114.7,1339.0 1125.0,1337.5 C1135.3,1336.0 1147.4,1333.5 1156.0,1331.3 C1164.6,1329.1 1170.9,1325.6 1176.4,1324.3 C1181.9,1323.0 1184.9,1322.7 1188.8,1323.6 C1192.7,1324.5 1197.4,1327.0 1199.7,1329.8 C1202.0,1332.6 1203.1,1336.2 1202.8,1340.6 C1202.5,1345.0 1200.6,1351.1 1198.0,1356.0 C1195.4,1360.9 1192.5,1365.6 1187.3,1370.0 C1182.1,1374.4 1176.0,1379.2 1167.0,1382.5 C1158.0,1385.8 1145.2,1387.9 1133.0,1390.0 C1120.8,1392.1 1105.4,1394.0 1094.0,1394.9 C1082.6,1395.9 1069.7,1395.6 1064.8,1395.7"/>
<path class="ct" d="M1064.0,1412.0 C1068.5,1411.7 1082.1,1410.8 1091.0,1410.4 C1099.9,1410.0 1107.9,1410.0 1117.5,1409.6 C1127.1,1409.2 1142.1,1408.3 1148.5,1408.0 C1154.9,1407.7 1154.8,1408.0 1156.0,1408.0"/>
<path class="ct" d="M1322.0,1132.0 C1324.2,1132.3 1325.5,1132.5 1335.5,1134.0 C1345.5,1135.5 1366.5,1138.7 1382.0,1141.0 C1397.5,1143.3 1413.0,1146.3 1428.5,1148.0 C1444.0,1149.7 1459.5,1150.0 1475.0,1151.0 C1490.5,1152.0 1503.5,1153.3 1521.6,1154.0 C1539.7,1154.7 1567.2,1155.0 1583.6,1155.0 C1600.0,1155.0 1613.9,1154.2 1620.0,1154.0"/>
<path class="ct" d="M1410.0,1186.7 C1411.5,1187.9 1416.9,1190.5 1419.2,1193.7 C1421.5,1196.9 1423.4,1201.9 1423.9,1206.0 C1424.4,1210.1 1424.1,1214.3 1422.3,1218.5 C1420.5,1222.7 1418.4,1226.9 1413.0,1231.0 C1407.6,1235.1 1398.8,1239.5 1389.8,1243.3 C1380.8,1247.1 1370.4,1249.9 1358.8,1254.0 C1347.2,1258.1 1329.2,1264.7 1320.0,1268.0 C1310.8,1271.3 1311.5,1270.2 1303.6,1274.0 C1295.7,1277.8 1280.9,1285.1 1272.6,1291.0 C1264.3,1296.9 1258.7,1303.1 1254.0,1309.6 C1249.3,1316.1 1247.0,1322.1 1244.7,1329.8 C1242.4,1337.5 1240.3,1347.5 1240.0,1356.0 C1239.7,1364.5 1240.7,1374.3 1243.0,1381.0 C1245.3,1387.7 1250.1,1392.3 1254.0,1396.4 C1257.9,1400.5 1263.7,1402.6 1266.4,1405.7 C1269.1,1408.8 1270.7,1412.0 1270.2,1415.0 C1269.7,1418.0 1264.5,1422.5 1263.3,1424.0"/>
<path class="ct" d="M1600.0,1180.5 C1597.3,1179.9 1596.7,1177.7 1583.6,1176.7 C1570.5,1175.7 1542.3,1175.1 1521.6,1174.3 C1500.9,1173.5 1473.5,1172.0 1459.5,1172.0 C1445.5,1172.0 1442.7,1172.8 1437.8,1174.3 C1432.9,1175.8 1431.3,1176.5 1430.0,1181.3 C1428.7,1186.1 1430.2,1196.8 1430.0,1203.0 C1429.8,1209.2 1430.3,1213.6 1428.5,1218.5 C1426.7,1223.4 1424.4,1228.1 1419.2,1232.5 C1414.0,1236.9 1406.3,1241.0 1397.5,1244.9 C1388.7,1248.8 1376.8,1251.9 1366.5,1255.7 C1356.2,1259.5 1344.7,1263.7 1335.5,1268.0 C1326.3,1272.3 1318.7,1277.1 1311.3,1281.7 C1303.9,1286.3 1295.7,1291.8 1291.0,1295.7 C1286.3,1299.6 1283.4,1302.3 1283.4,1305.0 C1283.4,1307.7 1286.3,1311.0 1291.0,1312.0 C1295.7,1313.0 1303.1,1311.8 1311.3,1311.0 C1319.5,1310.2 1328.2,1308.8 1340.0,1307.3 C1351.8,1305.8 1364.7,1303.3 1382.0,1301.9 C1399.3,1300.5 1418.2,1299.2 1444.0,1298.8 C1469.8,1298.4 1507.7,1299.1 1537.0,1299.5 C1566.3,1299.9 1606.2,1300.8 1620.0,1301.0"/>
<path class="ct" d="M1600.0,1180.5 C1603.8,1180.9 1615.2,1181.9 1623.0,1182.9 C1630.8,1183.9 1638.5,1185.4 1646.5,1186.7 C1654.5,1188.0 1666.9,1189.9 1671.0,1190.6"/>
<path class="ct" d="M1693.0,1194.5 C1696.9,1194.5 1708.5,1195.4 1716.3,1194.5 C1724.0,1193.6 1731.8,1192.0 1739.5,1189.0 C1747.2,1186.0 1756.3,1181.1 1762.8,1176.7 C1769.3,1172.3 1773.1,1168.2 1778.3,1162.7 C1783.5,1157.2 1789.4,1149.7 1793.8,1144.0 C1798.2,1138.3 1802.9,1131.2 1804.7,1128.6"/>
<path class="ct" d="M1579.0,1212.3 C1574.6,1211.8 1559.6,1209.5 1552.6,1209.0 C1545.6,1208.5 1543.5,1208.2 1537.0,1209.0 C1530.5,1209.8 1521.5,1211.8 1513.8,1213.9 C1506.0,1216.0 1499.5,1218.0 1490.5,1221.6 C1481.5,1225.2 1469.8,1231.2 1459.5,1235.6 C1449.2,1240.0 1438.8,1244.4 1428.5,1248.0 C1418.2,1251.6 1407.8,1254.5 1397.5,1257.3 C1387.2,1260.1 1376.8,1261.9 1366.5,1265.0 C1356.2,1268.1 1342.8,1272.6 1335.5,1275.9 C1328.2,1279.2 1324.6,1282.3 1323.0,1285.0 C1321.4,1287.7 1322.7,1290.4 1326.0,1292.0 C1329.3,1293.6 1331.1,1294.0 1343.0,1294.5 C1354.9,1295.0 1375.5,1295.0 1397.5,1295.3 C1419.5,1295.6 1437.9,1296.0 1475.0,1296.4 C1512.1,1296.9 1586.2,1298.1 1620.0,1298.0 C1653.8,1297.9 1661.5,1297.6 1677.5,1296.0 C1693.5,1294.4 1706.0,1291.1 1716.3,1288.3 C1726.6,1285.5 1733.0,1282.6 1739.5,1279.0 C1746.0,1275.4 1751.8,1270.5 1755.0,1266.6 C1758.2,1262.7 1759.0,1259.1 1759.0,1255.7 C1759.0,1252.3 1758.2,1249.5 1755.0,1246.4 C1751.8,1243.3 1747.2,1240.1 1739.5,1237.0 C1731.8,1233.9 1718.8,1230.2 1708.5,1227.8 C1698.2,1225.4 1687.8,1223.7 1677.5,1222.4 C1667.2,1221.1 1651.7,1220.4 1646.5,1220.0"/>
<path class="ct" d="M1340.0,1277.0 C1337.8,1277.8 1329.6,1279.9 1326.8,1281.7 C1324.0,1283.5 1323.6,1286.9 1323.0,1287.9"/>
<path class="ct" d="M1340.0,1322.0 C1347.0,1321.2 1364.7,1319.3 1382.0,1317.4 C1399.3,1315.5 1423.3,1312.5 1444.0,1310.4 C1464.7,1308.3 1487.9,1306.2 1506.0,1305.0 C1524.1,1303.8 1538.4,1303.3 1552.6,1303.4 C1566.8,1303.5 1580.1,1305.4 1591.3,1305.7 C1602.5,1306.0 1605.6,1306.2 1620.0,1305.0 C1634.4,1303.8 1662.8,1300.7 1677.5,1298.4 C1692.2,1296.1 1698.2,1294.4 1708.5,1291.4 C1718.8,1288.4 1730.5,1284.6 1739.5,1280.5 C1748.5,1276.4 1756.3,1271.0 1762.8,1266.6 C1769.3,1262.2 1773.1,1258.7 1778.3,1254.0 C1783.5,1249.3 1789.0,1243.3 1793.8,1238.7 C1798.6,1234.1 1804.8,1228.4 1807.0,1226.3"/>
<path class="ct" d="M1340.0,1322.0 C1333.9,1323.0 1314.8,1325.2 1303.6,1328.0 C1292.4,1330.8 1280.4,1334.8 1272.6,1339.0 C1264.8,1343.2 1260.9,1348.1 1257.0,1353.0 C1253.1,1357.9 1250.1,1363.3 1249.3,1368.5 C1248.5,1373.7 1250.1,1379.6 1252.4,1384.0 C1254.7,1388.4 1258.7,1392.4 1263.3,1395.0 C1267.9,1397.6 1274.3,1399.4 1280.3,1399.5 C1286.2,1399.6 1295.9,1396.3 1299.0,1395.7"/>
<path class="ct" d="M1325.3,1379.4 C1327.5,1377.3 1334.0,1370.1 1338.6,1367.0 C1343.1,1363.9 1348.9,1361.1 1352.6,1360.8 C1356.3,1360.5 1359.1,1362.3 1361.0,1365.4 C1362.9,1368.5 1363.0,1375.0 1364.2,1379.4 C1365.4,1383.8 1366.1,1389.6 1368.0,1391.8 C1369.9,1394.0 1372.7,1394.4 1375.8,1392.6 C1378.9,1390.8 1383.1,1385.8 1386.7,1381.0 C1390.3,1376.2 1393.1,1368.8 1397.5,1363.9 C1401.9,1359.0 1407.3,1354.7 1413.0,1351.5 C1418.7,1348.3 1426.7,1345.7 1431.6,1345.0 C1436.5,1344.3 1440.4,1345.8 1442.5,1347.6 C1444.6,1349.4 1445.8,1352.3 1444.0,1356.0 C1442.2,1359.7 1435.7,1365.6 1431.6,1370.0 C1427.5,1374.4 1421.5,1378.9 1419.2,1382.5 C1416.9,1386.1 1416.7,1389.7 1417.7,1391.8 C1418.7,1393.9 1421.0,1395.4 1425.4,1394.9 C1429.8,1394.4 1437.0,1390.2 1444.0,1388.7 C1451.0,1387.2 1457.0,1386.1 1467.3,1385.6 C1477.6,1385.1 1493.1,1386.1 1506.0,1385.6 C1518.9,1385.1 1534.5,1382.9 1544.8,1382.5 C1555.1,1382.1 1561.0,1382.4 1568.0,1383.3 C1575.0,1384.2 1581.0,1387.0 1586.7,1387.9 C1592.4,1388.8 1597.6,1389.4 1602.0,1388.7 C1606.4,1388.0 1610.9,1386.3 1613.0,1384.0 C1615.1,1381.7 1615.6,1377.8 1614.6,1374.7 C1613.6,1371.6 1609.6,1368.5 1606.8,1365.4 C1604.0,1362.3 1599.0,1359.1 1597.5,1356.0 C1596.0,1352.9 1596.0,1348.8 1597.5,1346.8 C1599.0,1344.8 1603.0,1343.6 1606.8,1343.7 C1610.5,1343.8 1616.2,1346.0 1620.0,1347.5 C1623.8,1349.0 1626.4,1352.0 1629.5,1353.0 C1632.6,1354.0 1634.9,1354.2 1638.8,1353.7 C1642.7,1353.2 1646.2,1350.5 1652.7,1349.8 C1659.2,1349.1 1665.6,1349.9 1677.5,1349.8 C1689.4,1349.7 1712.4,1348.6 1724.0,1349.0 C1735.6,1349.4 1739.5,1350.2 1747.3,1352.0 C1755.0,1353.8 1763.3,1357.2 1770.5,1360.0 C1777.7,1362.8 1785.0,1366.2 1790.7,1369.0 C1796.4,1371.8 1802.4,1375.7 1804.7,1377.0"/>
<path class="ct" d="M1804.7,1335.9 C1803.1,1334.9 1799.7,1331.8 1795.3,1329.7 C1790.9,1327.6 1785.0,1325.7 1778.3,1323.5 C1771.6,1321.3 1764.0,1318.6 1755.0,1316.5 C1746.0,1314.4 1739.5,1312.3 1724.0,1311.0 C1708.5,1309.7 1679.3,1308.6 1662.0,1308.8 C1644.7,1309.0 1631.8,1311.1 1620.0,1312.0 C1608.2,1312.9 1602.5,1314.2 1591.3,1314.3 C1580.1,1314.4 1566.8,1312.7 1552.6,1312.7 C1538.4,1312.7 1518.9,1313.0 1506.0,1314.3 C1493.1,1315.6 1483.0,1318.2 1475.0,1320.5 C1467.0,1322.8 1461.5,1325.2 1458.0,1328.0 C1454.5,1330.8 1453.8,1334.9 1454.0,1337.5 C1454.2,1340.1 1453.4,1342.3 1459.5,1343.7 C1465.6,1345.1 1478.9,1345.3 1490.5,1346.0 C1502.1,1346.7 1516.4,1348.0 1529.3,1347.6 C1542.2,1347.2 1556.4,1344.9 1568.0,1343.7 C1579.6,1342.5 1587.0,1340.8 1599.0,1340.6 C1611.0,1340.4 1624.3,1341.9 1640.0,1342.5 C1655.7,1343.1 1676.4,1343.9 1693.0,1344.4 C1709.6,1344.9 1728.3,1344.6 1739.5,1345.5 C1750.7,1346.4 1756.6,1349.2 1760.0,1350.0"/>
<path class="ct" d="M1727.0,1349.8 C1730.4,1351.5 1741.1,1356.2 1747.3,1360.0 C1753.5,1363.8 1759.1,1367.7 1764.3,1372.3 C1769.5,1376.9 1773.9,1382.4 1778.3,1387.8 C1782.7,1393.2 1787.1,1400.0 1790.7,1404.9 C1794.3,1409.8 1797.5,1414.3 1800.0,1417.3 C1802.5,1420.3 1805.0,1421.8 1806.0,1422.7"/>
<path class="ct" d="M1728.0,1419.6 C1727.1,1417.9 1725.0,1413.5 1722.5,1409.5 C1720.0,1405.5 1716.1,1400.0 1713.0,1395.6 C1709.9,1391.2 1705.8,1386.6 1703.9,1383.0 C1702.0,1379.4 1701.3,1376.6 1701.6,1373.9 C1701.8,1371.2 1703.5,1368.5 1705.4,1367.0 C1707.3,1365.5 1710.2,1364.7 1713.0,1365.0 C1715.8,1365.3 1719.4,1366.2 1722.5,1369.0 C1725.6,1371.8 1729.0,1377.2 1731.8,1381.6 C1734.6,1386.0 1737.2,1390.9 1739.5,1395.6 C1741.8,1400.2 1744.3,1405.5 1745.7,1409.5 C1747.1,1413.5 1747.6,1417.9 1748.0,1419.6"/>
<path class="ct" d="M1640.0,1367.7 C1641.6,1366.4 1645.9,1362.1 1649.6,1360.0 C1653.3,1357.9 1658.1,1355.5 1662.0,1355.0 C1665.9,1354.5 1669.6,1355.0 1672.9,1356.8 C1676.2,1358.6 1679.8,1362.4 1682.0,1366.0 C1684.2,1369.6 1685.6,1374.3 1686.0,1378.5 C1686.4,1382.7 1686.2,1387.1 1684.5,1391.0 C1682.8,1394.9 1680.2,1398.5 1676.0,1401.8 C1671.8,1405.1 1666.5,1408.5 1659.0,1411.0 C1651.5,1413.5 1638.8,1415.5 1631.0,1416.5 C1623.2,1417.5 1617.7,1417.3 1612.4,1417.3 C1607.1,1417.3 1606.4,1417.6 1599.0,1416.6 C1591.6,1415.5 1577.0,1412.0 1568.0,1411.0 C1559.0,1410.0 1552.5,1409.7 1544.8,1410.4 C1537.1,1411.1 1530.1,1413.3 1521.6,1415.0 C1513.1,1416.7 1501.4,1419.8 1493.6,1420.5 C1485.8,1421.2 1479.5,1420.2 1475.0,1418.9 C1470.5,1417.6 1467.5,1414.6 1466.5,1412.7 C1465.5,1410.8 1466.1,1408.8 1468.8,1407.3 C1471.5,1405.8 1474.0,1404.7 1482.8,1403.4 C1491.6,1402.1 1507.4,1400.9 1521.6,1399.5 C1535.8,1398.1 1554.9,1396.3 1568.0,1394.9 C1581.1,1393.5 1592.6,1391.9 1600.0,1391.0 C1607.4,1390.1 1608.7,1390.3 1612.4,1389.4 C1616.2,1388.5 1620.8,1386.2 1622.5,1385.5"/>
<path class="ct" d="M1600.0,1358.4 C1601.3,1359.4 1605.3,1361.8 1607.8,1364.6 C1610.2,1367.4 1614.2,1372.1 1614.7,1375.4 C1615.2,1378.8 1613.4,1382.4 1610.9,1384.7 C1608.5,1387.0 1601.8,1388.6 1600.0,1389.4"/>
<path class="ct" d="M1778.3,1281.3 C1774.4,1282.3 1764.0,1285.3 1755.0,1287.5 C1746.0,1289.7 1734.8,1292.2 1724.0,1294.5 C1713.2,1296.8 1702.3,1299.5 1690.0,1301.0 C1677.7,1302.5 1656.7,1303.1 1650.0,1303.5"/>
<g clip-path="url(#clipF)">
<path class="wall7l" d="M1052.8,1133 L1752,1125.3 L1940,1060.2"/>
<path class="wall7l" d="M1940,1219.5 L1790.5,1280 L1940,1328.1"/>
<path class="wall7l" d="M1050.8,1428.6 L1746.8,1422.7 L1940,1485.7"/>
</g>
<text class="lbc" x="1178.0" y="1112.0">-0.5</text>
<text class="lbc" x="1322.0" y="1104.2">-1</text>
<text class="lbc" x="1046.0" y="1166.9">0</text>
<text class="lbc" transform="translate(1153.0 1197.6) rotate(10.0)" x="0" y="-1.8">-1</text>
<text class="lbc" transform="translate(1399.0 1180.5) rotate(10.0)" x="0" y="-1.8">1</text>
<text class="lbc" x="1038.0" y="1341.2">0.5</text>
<text class="lbc" x="1168.0" y="1403.2">1</text>
<text class="lbc" transform="translate(1311.3 1388.0) rotate(-25.0)" x="0" y="-1.8">0</text>
<text class="lbc" transform="translate(1681.4 1192.0) rotate(10.0)" x="0" y="-1.8">1</text>
<text class="lbc" x="1610.0" y="1214.2">1.75</text>
<text class="lbc" transform="translate(1820.0 1345.0) rotate(20.0)" x="0" y="-1.8">-1</text>
<text class="lbc" transform="translate(1820.0 1384.7) rotate(20.0)" x="0" y="-1.8">-1</text>
<text class="lbc" transform="translate(1817.0 1425.0) rotate(20.0)" x="0" y="-1.8">0</text>
<text class="lbc" transform="translate(1728.7 1443.6) rotate(10.0)" x="0" y="-1.8">1</text>
<text class="lbc" transform="translate(1631.0 1377.7) rotate(-35.0)" x="0" y="-1.8">1</text>
<rect x="1346" y="1455" width="252" height="21.7" fill="url(#gradD)" stroke="#aaa" stroke-width="0.6"/>
<text class="ab2" x="1326.5" y="1518">-5</text>
<text class="ab2" x="1438.8" y="1518">0</text>
<text class="ab2" x="1513" y="1518">2.5</text>
<text class="ab2" x="1588" y="1518" textLength="123" lengthAdjust="spacingAndGlyphs">5 cm<tspan class="sup" dy="-11">2</tspan><tspan dy="11">s</tspan><tspan class="sup" dy="-11">-2</tspan></text>
<text class="pl" x="4.9" y="78.9">a</text>
<text class="pl" x="994.1" y="49.2">b</text>
<text class="pl" x="5.9" y="600.5">c</text>
<text class="pl" x="994" y="590">d</text>
<text class="pl" x="6.9" y="1101.4">e</text>
<text class="pl" x="994.6" y="1087.7">f</text>
<path d="M885.4,1527.2 L1162.3,1527.2" stroke="#000" stroke-width="5.3" stroke-linecap="round"/>
<text class="ab3" x="982.5" y="1571.4">10 m</text>
</svg>
</body></html>
